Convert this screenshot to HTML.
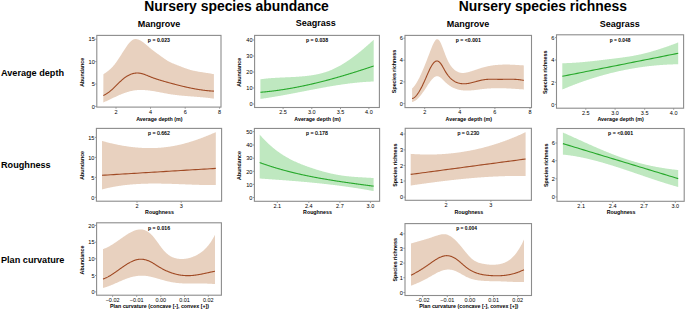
<!DOCTYPE html>
<html><head><meta charset="utf-8"><style>
html,body{margin:0;padding:0;background:#fff;}
svg{display:block;}
text{font-family:"Liberation Sans", sans-serif;fill:#000;}
</style></head><body>
<svg width="685" height="311" viewBox="0 0 685 311">
<rect width="685" height="311" fill="#fff"/>
<path d="M103.40,74.26 L103.90,73.94 L104.40,73.60 L104.90,73.27 L105.40,72.92 L105.90,72.57 L106.40,72.21 L106.90,71.84 L107.40,71.47 L107.90,71.08 L108.40,70.68 L108.90,70.26 L109.40,69.84 L109.90,69.40 L110.40,68.94 L110.90,68.47 L111.40,67.98 L111.90,67.48 L112.40,66.95 L112.90,66.41 L113.40,65.85 L113.90,65.26 L114.40,64.65 L114.90,64.02 L115.40,63.37 L115.90,62.70 L116.40,62.01 L116.90,61.30 L117.40,60.58 L117.90,59.84 L118.40,59.09 L118.90,58.33 L119.40,57.56 L119.90,56.78 L120.40,56.00 L120.90,55.21 L121.40,54.42 L121.90,53.62 L122.40,52.83 L122.90,52.04 L123.40,51.25 L123.90,50.47 L124.40,49.69 L124.90,48.92 L125.40,48.16 L125.90,47.41 L126.40,46.68 L126.90,45.97 L127.40,45.28 L127.90,44.61 L128.40,43.96 L128.90,43.35 L129.40,42.76 L129.90,42.21 L130.40,41.70 L130.90,41.22 L131.40,40.79 L131.90,40.40 L132.40,40.05 L132.90,39.76 L133.40,39.51 L133.90,39.32 L134.40,39.18 L134.90,39.09 L135.40,39.04 L135.90,39.03 L136.40,39.07 L136.90,39.14 L137.40,39.25 L137.90,39.39 L138.40,39.56 L138.90,39.76 L139.40,39.99 L139.90,40.24 L140.40,40.51 L140.90,40.80 L141.40,41.11 L141.90,41.43 L142.40,41.77 L142.90,42.12 L143.40,42.49 L143.90,42.87 L144.40,43.25 L144.90,43.65 L145.40,44.06 L145.90,44.47 L146.40,44.89 L146.90,45.31 L147.40,45.74 L147.90,46.17 L148.40,46.60 L148.90,47.03 L149.40,47.46 L149.90,47.88 L150.40,48.31 L150.90,48.72 L151.40,49.14 L151.90,49.54 L152.40,49.94 L152.90,50.33 L153.40,50.72 L153.90,51.09 L154.40,51.47 L154.90,51.83 L155.40,52.20 L155.90,52.56 L156.40,52.91 L156.90,53.27 L157.40,53.63 L157.90,53.98 L158.40,54.33 L158.90,54.69 L159.40,55.05 L159.90,55.41 L160.40,55.77 L160.90,56.14 L161.40,56.51 L161.90,56.88 L162.40,57.24 L162.90,57.61 L163.40,57.97 L163.90,58.33 L164.40,58.69 L164.90,59.03 L165.40,59.37 L165.90,59.70 L166.40,60.02 L166.90,60.33 L167.40,60.63 L167.90,60.92 L168.40,61.20 L168.90,61.47 L169.40,61.74 L169.90,61.99 L170.40,62.24 L170.90,62.48 L171.40,62.71 L171.90,62.94 L172.40,63.16 L172.90,63.38 L173.40,63.59 L173.90,63.80 L174.40,64.01 L174.90,64.21 L175.40,64.41 L175.90,64.60 L176.40,64.80 L176.90,64.99 L177.40,65.19 L177.90,65.38 L178.40,65.57 L178.90,65.77 L179.40,65.96 L179.90,66.16 L180.40,66.35 L180.90,66.55 L181.40,66.74 L181.90,66.94 L182.40,67.13 L182.90,67.32 L183.40,67.51 L183.90,67.70 L184.40,67.89 L184.90,68.07 L185.40,68.25 L185.90,68.43 L186.40,68.61 L186.90,68.78 L187.40,68.95 L187.90,69.12 L188.40,69.28 L188.90,69.44 L189.40,69.59 L189.90,69.74 L190.40,69.88 L190.90,70.02 L191.40,70.15 L191.90,70.28 L192.40,70.41 L192.90,70.53 L193.40,70.64 L193.90,70.76 L194.40,70.87 L194.90,70.97 L195.40,71.07 L195.90,71.17 L196.40,71.27 L196.90,71.37 L197.40,71.46 L197.90,71.55 L198.40,71.63 L198.90,71.72 L199.40,71.80 L199.90,71.89 L200.40,71.97 L200.90,72.04 L201.40,72.12 L201.90,72.20 L202.40,72.28 L202.90,72.35 L203.40,72.43 L203.90,72.50 L204.40,72.58 L204.90,72.65 L205.40,72.73 L205.90,72.80 L206.40,72.88 L206.90,72.95 L207.40,73.03 L207.90,73.11 L208.40,73.19 L208.90,73.27 L209.40,73.35 L209.90,73.44 L210.40,73.52 L210.90,73.61 L211.40,73.70 L211.90,73.80 L212.40,73.89 L212.90,73.99 L213.40,74.09 L213.90,74.20 L213.90,98.69 L213.80,98.68 L213.30,98.60 L212.80,98.53 L212.30,98.46 L211.80,98.38 L211.30,98.32 L210.80,98.25 L210.30,98.18 L209.80,98.12 L209.30,98.05 L208.80,97.99 L208.30,97.93 L207.80,97.87 L207.30,97.82 L206.80,97.76 L206.30,97.71 L205.80,97.65 L205.30,97.60 L204.80,97.55 L204.30,97.50 L203.80,97.45 L203.30,97.40 L202.80,97.35 L202.30,97.31 L201.80,97.26 L201.30,97.21 L200.80,97.17 L200.30,97.13 L199.80,97.08 L199.30,97.04 L198.80,97.00 L198.30,96.96 L197.80,96.92 L197.30,96.88 L196.80,96.84 L196.30,96.80 L195.80,96.76 L195.30,96.72 L194.80,96.69 L194.30,96.65 L193.80,96.61 L193.30,96.57 L192.80,96.53 L192.30,96.50 L191.80,96.46 L191.30,96.42 L190.80,96.38 L190.30,96.34 L189.80,96.31 L189.30,96.27 L188.80,96.23 L188.30,96.19 L187.80,96.15 L187.30,96.11 L186.80,96.07 L186.30,96.03 L185.80,95.99 L185.30,95.95 L184.80,95.91 L184.30,95.86 L183.80,95.82 L183.30,95.77 L182.80,95.73 L182.30,95.68 L181.80,95.64 L181.30,95.59 L180.80,95.54 L180.30,95.49 L179.80,95.44 L179.30,95.39 L178.80,95.33 L178.30,95.28 L177.80,95.23 L177.30,95.17 L176.80,95.11 L176.30,95.05 L175.80,94.99 L175.30,94.93 L174.80,94.87 L174.30,94.80 L173.80,94.73 L173.30,94.67 L172.80,94.60 L172.30,94.52 L171.80,94.45 L171.30,94.38 L170.80,94.30 L170.30,94.22 L169.80,94.14 L169.30,94.06 L168.80,93.97 L168.30,93.89 L167.80,93.80 L167.30,93.71 L166.80,93.62 L166.30,93.53 L165.80,93.44 L165.30,93.34 L164.80,93.25 L164.30,93.15 L163.80,93.06 L163.30,92.96 L162.80,92.87 L162.30,92.77 L161.80,92.67 L161.30,92.58 L160.80,92.48 L160.30,92.38 L159.80,92.29 L159.30,92.19 L158.80,92.09 L158.30,92.00 L157.80,91.91 L157.30,91.81 L156.80,91.72 L156.30,91.63 L155.80,91.54 L155.30,91.45 L154.80,91.36 L154.30,91.28 L153.80,91.19 L153.30,91.11 L152.80,91.03 L152.30,90.95 L151.80,90.88 L151.30,90.80 L150.80,90.73 L150.30,90.66 L149.80,90.60 L149.30,90.53 L148.80,90.47 L148.30,90.41 L147.80,90.36 L147.30,90.31 L146.80,90.26 L146.30,90.21 L145.80,90.17 L145.30,90.13 L144.80,90.10 L144.30,90.07 L143.80,90.04 L143.30,90.02 L142.80,90.00 L142.30,89.99 L141.80,89.98 L141.30,89.97 L140.80,89.97 L140.30,89.98 L139.80,89.99 L139.30,90.00 L138.80,90.02 L138.30,90.04 L137.80,90.07 L137.30,90.11 L136.80,90.15 L136.30,90.20 L135.80,90.25 L135.30,90.31 L134.80,90.37 L134.30,90.44 L133.80,90.52 L133.30,90.60 L132.80,90.69 L132.30,90.79 L131.80,90.89 L131.30,91.00 L130.80,91.11 L130.30,91.23 L129.80,91.36 L129.30,91.49 L128.80,91.63 L128.30,91.77 L127.80,91.91 L127.30,92.07 L126.80,92.22 L126.30,92.39 L125.80,92.55 L125.30,92.72 L124.80,92.90 L124.30,93.08 L123.80,93.26 L123.30,93.45 L122.80,93.64 L122.30,93.84 L121.80,94.03 L121.30,94.24 L120.80,94.44 L120.30,94.65 L119.80,94.86 L119.30,95.08 L118.80,95.30 L118.30,95.52 L117.80,95.74 L117.30,95.97 L116.80,96.20 L116.30,96.43 L115.80,96.66 L115.30,96.89 L114.80,97.13 L114.30,97.36 L113.80,97.60 L113.30,97.84 L112.80,98.08 L112.30,98.32 L111.80,98.56 L111.30,98.80 L110.80,99.04 L110.30,99.27 L109.80,99.51 L109.30,99.75 L108.80,99.99 L108.30,100.22 L107.80,100.45 L107.30,100.69 L106.80,100.92 L106.30,101.14 L105.80,101.37 L105.30,101.59 L104.80,101.81 L104.30,102.03 L103.80,102.25 L103.30,102.46 Z" fill="#e8d1bf"/>
<path d="M103.30,95.49 L103.80,95.26 L104.30,95.01 L104.80,94.75 L105.30,94.48 L105.80,94.19 L106.30,93.89 L106.80,93.58 L107.30,93.25 L107.80,92.91 L108.30,92.56 L108.80,92.19 L109.30,91.82 L109.80,91.43 L110.30,91.03 L110.80,90.61 L111.30,90.19 L111.80,89.76 L112.30,89.31 L112.80,88.86 L113.30,88.40 L113.80,87.92 L114.30,87.44 L114.80,86.95 L115.30,86.46 L115.80,85.97 L116.30,85.47 L116.80,84.96 L117.30,84.46 L117.80,83.96 L118.30,83.46 L118.80,82.96 L119.30,82.47 L119.80,81.98 L120.30,81.50 L120.80,81.03 L121.30,80.56 L121.80,80.11 L122.30,79.66 L122.80,79.23 L123.30,78.81 L123.80,78.41 L124.30,78.02 L124.80,77.65 L125.30,77.29 L125.80,76.94 L126.30,76.61 L126.80,76.29 L127.30,75.99 L127.80,75.70 L128.30,75.43 L128.80,75.17 L129.30,74.93 L129.80,74.70 L130.30,74.49 L130.80,74.29 L131.30,74.10 L131.80,73.93 L132.30,73.78 L132.80,73.64 L133.30,73.51 L133.80,73.40 L134.30,73.30 L134.80,73.22 L135.30,73.15 L135.80,73.10 L136.30,73.06 L136.80,73.04 L137.30,73.03 L137.80,73.04 L138.30,73.06 L138.80,73.10 L139.30,73.15 L139.80,73.21 L140.30,73.29 L140.80,73.39 L141.30,73.50 L141.80,73.62 L142.30,73.75 L142.80,73.90 L143.30,74.05 L143.80,74.22 L144.30,74.39 L144.80,74.57 L145.30,74.75 L145.80,74.94 L146.30,75.14 L146.80,75.34 L147.30,75.54 L147.80,75.75 L148.30,75.96 L148.80,76.16 L149.30,76.37 L149.80,76.58 L150.30,76.78 L150.80,76.98 L151.30,77.18 L151.80,77.37 L152.30,77.56 L152.80,77.75 L153.30,77.93 L153.80,78.11 L154.30,78.29 L154.80,78.47 L155.30,78.64 L155.80,78.81 L156.30,78.98 L156.80,79.14 L157.30,79.31 L157.80,79.47 L158.30,79.63 L158.80,79.78 L159.30,79.94 L159.80,80.09 L160.30,80.25 L160.80,80.40 L161.30,80.54 L161.80,80.69 L162.30,80.84 L162.80,80.98 L163.30,81.13 L163.80,81.27 L164.30,81.41 L164.80,81.55 L165.30,81.69 L165.80,81.83 L166.30,81.97 L166.80,82.11 L167.30,82.25 L167.80,82.39 L168.30,82.53 L168.80,82.67 L169.30,82.80 L169.80,82.94 L170.30,83.08 L170.80,83.21 L171.30,83.35 L171.80,83.48 L172.30,83.62 L172.80,83.75 L173.30,83.89 L173.80,84.02 L174.30,84.15 L174.80,84.28 L175.30,84.42 L175.80,84.55 L176.30,84.68 L176.80,84.80 L177.30,84.93 L177.80,85.06 L178.30,85.19 L178.80,85.31 L179.30,85.44 L179.80,85.56 L180.30,85.69 L180.80,85.81 L181.30,85.93 L181.80,86.05 L182.30,86.18 L182.80,86.29 L183.30,86.41 L183.80,86.53 L184.30,86.65 L184.80,86.76 L185.30,86.88 L185.80,86.99 L186.30,87.10 L186.80,87.22 L187.30,87.33 L187.80,87.44 L188.30,87.54 L188.80,87.65 L189.30,87.76 L189.80,87.86 L190.30,87.96 L190.80,88.07 L191.30,88.17 L191.80,88.27 L192.30,88.37 L192.80,88.46 L193.30,88.56 L193.80,88.66 L194.30,88.75 L194.80,88.84 L195.30,88.93 L195.80,89.02 L196.30,89.11 L196.80,89.20 L197.30,89.28 L197.80,89.36 L198.30,89.45 L198.80,89.53 L199.30,89.61 L199.80,89.68 L200.30,89.76 L200.80,89.83 L201.30,89.91 L201.80,89.98 L202.30,90.05 L202.80,90.11 L203.30,90.18 L203.80,90.25 L204.30,90.31 L204.80,90.37 L205.30,90.43 L205.80,90.49 L206.30,90.54 L206.80,90.60 L207.30,90.65 L207.80,90.70 L208.30,90.75 L208.80,90.79 L209.30,90.84 L209.80,90.88 L210.30,90.92 L210.80,90.96 L211.30,91.00 L211.80,91.03 L212.30,91.07 L212.80,91.10 L213.30,91.13 L213.80,91.15 L213.90,91.16" fill="none" stroke="#a04a24" stroke-width="1.1"/>
<rect x="96.8" y="35.4" width="124.2" height="71.69999999999999" fill="none" stroke="#8c8c8c" stroke-width="1.1"/>
<text transform="translate(94.80,41.40) scale(0.92,1)" font-size="6.1" text-anchor="end">15</text>
<text transform="translate(94.80,63.80) scale(0.92,1)" font-size="6.1" text-anchor="end">10</text>
<text transform="translate(94.80,86.20) scale(0.92,1)" font-size="6.1" text-anchor="end">5</text>
<text transform="translate(94.80,108.60) scale(0.92,1)" font-size="6.1" text-anchor="end">0</text>
<text x="116" y="113.9" font-size="5.5" font-weight="normal" text-anchor="middle" >2</text>
<text x="150.5" y="113.9" font-size="5.5" font-weight="normal" text-anchor="middle" >4</text>
<text x="185.2" y="113.9" font-size="5.5" font-weight="normal" text-anchor="middle" >6</text>
<text x="219.6" y="113.9" font-size="5.5" font-weight="normal" text-anchor="middle" >8</text>
<path d="M96.8,39.2 h-1.6 M96.8,61.6 h-1.6 M96.8,84.0 h-1.6 M96.8,106.4 h-1.6 M116,107.1 v1.6 M150.5,107.1 v1.6 M185.2,107.1 v1.6 M219.6,107.1 v1.6" stroke="#8c8c8c" stroke-width="0.9" fill="none"/>
<text x="158.9" y="42.3" font-size="5.2" font-weight="bold" text-anchor="middle" >p = 0.023</text>
<text x="159.4" y="121" font-size="5.3" font-weight="bold" text-anchor="middle" >Average depth (m)</text>
<text transform="translate(83.8,72.3) rotate(-90)" font-size="5.3" font-weight="bold" text-anchor="middle">Abundance</text>
<path d="M260.40,79.28 L260.90,79.21 L261.40,79.14 L261.90,79.07 L262.40,79.01 L262.90,78.95 L263.40,78.89 L263.90,78.83 L264.40,78.77 L264.90,78.71 L265.40,78.66 L265.90,78.61 L266.40,78.56 L266.90,78.51 L267.40,78.46 L267.90,78.41 L268.40,78.37 L268.90,78.32 L269.40,78.28 L269.90,78.24 L270.40,78.20 L270.90,78.16 L271.40,78.12 L271.90,78.09 L272.40,78.05 L272.90,78.02 L273.40,77.98 L273.90,77.95 L274.40,77.92 L274.90,77.89 L275.40,77.86 L275.90,77.83 L276.40,77.80 L276.90,77.77 L277.40,77.75 L277.90,77.72 L278.40,77.69 L278.90,77.67 L279.40,77.64 L279.90,77.62 L280.40,77.59 L280.90,77.57 L281.40,77.55 L281.90,77.52 L282.40,77.50 L282.90,77.48 L283.40,77.46 L283.90,77.44 L284.40,77.41 L284.90,77.39 L285.40,77.37 L285.90,77.35 L286.40,77.33 L286.90,77.30 L287.40,77.28 L287.90,77.26 L288.40,77.24 L288.90,77.21 L289.40,77.19 L289.90,77.17 L290.40,77.14 L290.90,77.12 L291.40,77.10 L291.90,77.07 L292.40,77.05 L292.90,77.02 L293.40,76.99 L293.90,76.97 L294.40,76.94 L294.90,76.91 L295.40,76.88 L295.90,76.85 L296.40,76.82 L296.90,76.79 L297.40,76.75 L297.90,76.72 L298.40,76.69 L298.90,76.65 L299.40,76.61 L299.90,76.58 L300.40,76.54 L300.90,76.50 L301.40,76.45 L301.90,76.41 L302.40,76.37 L302.90,76.32 L303.40,76.28 L303.90,76.23 L304.40,76.18 L304.90,76.13 L305.40,76.07 L305.90,76.02 L306.40,75.96 L306.90,75.91 L307.40,75.85 L307.90,75.79 L308.40,75.72 L308.90,75.66 L309.40,75.59 L309.90,75.52 L310.40,75.45 L310.90,75.38 L311.40,75.31 L311.90,75.23 L312.40,75.15 L312.90,75.07 L313.40,74.99 L313.90,74.90 L314.40,74.82 L314.90,74.73 L315.40,74.64 L315.90,74.54 L316.40,74.44 L316.90,74.34 L317.40,74.24 L317.90,74.13 L318.40,74.02 L318.90,73.91 L319.40,73.80 L319.90,73.68 L320.40,73.56 L320.90,73.43 L321.40,73.31 L321.90,73.17 L322.40,73.04 L322.90,72.90 L323.40,72.76 L323.90,72.61 L324.40,72.46 L324.90,72.31 L325.40,72.15 L325.90,71.99 L326.40,71.83 L326.90,71.66 L327.40,71.49 L327.90,71.31 L328.40,71.13 L328.90,70.94 L329.40,70.75 L329.90,70.55 L330.40,70.35 L330.90,70.15 L331.40,69.94 L331.90,69.73 L332.40,69.51 L332.90,69.29 L333.40,69.06 L333.90,68.83 L334.40,68.59 L334.90,68.35 L335.40,68.11 L335.90,67.86 L336.40,67.61 L336.90,67.36 L337.40,67.10 L337.90,66.83 L338.40,66.56 L338.90,66.29 L339.40,66.02 L339.90,65.74 L340.40,65.45 L340.90,65.17 L341.40,64.88 L341.90,64.58 L342.40,64.28 L342.90,63.98 L343.40,63.68 L343.90,63.37 L344.40,63.06 L344.90,62.74 L345.40,62.42 L345.90,62.10 L346.40,61.77 L346.90,61.44 L347.40,61.11 L347.90,60.77 L348.40,60.43 L348.90,60.09 L349.40,59.74 L349.90,59.39 L350.40,59.04 L350.90,58.68 L351.40,58.32 L351.90,57.96 L352.40,57.60 L352.90,57.23 L353.40,56.86 L353.90,56.49 L354.40,56.11 L354.90,55.73 L355.40,55.35 L355.90,54.96 L356.40,54.58 L356.90,54.19 L357.40,53.79 L357.90,53.40 L358.40,53.00 L358.90,52.60 L359.40,52.20 L359.90,51.79 L360.40,51.38 L360.90,50.97 L361.40,50.56 L361.90,50.15 L362.40,49.73 L362.90,49.31 L363.40,48.89 L363.90,48.46 L364.40,48.04 L364.90,47.61 L365.40,47.18 L365.90,46.75 L366.40,46.31 L366.90,45.87 L367.40,45.44 L367.90,45.00 L368.40,44.55 L368.90,44.11 L369.40,43.66 L369.90,43.22 L370.40,42.77 L370.90,42.32 L371.40,41.86 L371.90,41.41 L372.40,40.95 L372.90,40.49 L373.40,40.04 L373.70,39.76 L373.70,81.49 L373.40,81.50 L372.90,81.52 L372.40,81.54 L371.90,81.56 L371.40,81.58 L370.90,81.60 L370.40,81.63 L369.90,81.65 L369.40,81.68 L368.90,81.70 L368.40,81.73 L367.90,81.76 L367.40,81.79 L366.90,81.82 L366.40,81.85 L365.90,81.88 L365.40,81.92 L364.90,81.95 L364.40,81.99 L363.90,82.03 L363.40,82.06 L362.90,82.10 L362.40,82.14 L361.90,82.18 L361.40,82.23 L360.90,82.27 L360.40,82.31 L359.90,82.36 L359.40,82.40 L358.90,82.45 L358.40,82.50 L357.90,82.55 L357.40,82.59 L356.90,82.64 L356.40,82.70 L355.90,82.75 L355.40,82.80 L354.90,82.85 L354.40,82.91 L353.90,82.96 L353.40,83.02 L352.90,83.08 L352.40,83.13 L351.90,83.19 L351.40,83.25 L350.90,83.31 L350.40,83.37 L349.90,83.43 L349.40,83.50 L348.90,83.56 L348.40,83.62 L347.90,83.69 L347.40,83.75 L346.90,83.82 L346.40,83.88 L345.90,83.95 L345.40,84.02 L344.90,84.09 L344.40,84.16 L343.90,84.23 L343.40,84.30 L342.90,84.37 L342.40,84.44 L341.90,84.52 L341.40,84.59 L340.90,84.66 L340.40,84.74 L339.90,84.81 L339.40,84.89 L338.90,84.96 L338.40,85.04 L337.90,85.12 L337.40,85.20 L336.90,85.28 L336.40,85.35 L335.90,85.43 L335.40,85.51 L334.90,85.60 L334.40,85.68 L333.90,85.76 L333.40,85.84 L332.90,85.92 L332.40,86.01 L331.90,86.09 L331.40,86.17 L330.90,86.26 L330.40,86.34 L329.90,86.43 L329.40,86.52 L328.90,86.60 L328.40,86.69 L327.90,86.78 L327.40,86.86 L326.90,86.95 L326.40,87.04 L325.90,87.13 L325.40,87.22 L324.90,87.31 L324.40,87.40 L323.90,87.49 L323.40,87.58 L322.90,87.67 L322.40,87.76 L321.90,87.85 L321.40,87.94 L320.90,88.04 L320.40,88.13 L319.90,88.22 L319.40,88.32 L318.90,88.41 L318.40,88.50 L317.90,88.60 L317.40,88.69 L316.90,88.78 L316.40,88.88 L315.90,88.97 L315.40,89.07 L314.90,89.16 L314.40,89.26 L313.90,89.35 L313.40,89.45 L312.90,89.54 L312.40,89.64 L311.90,89.74 L311.40,89.83 L310.90,89.93 L310.40,90.03 L309.90,90.12 L309.40,90.22 L308.90,90.32 L308.40,90.41 L307.90,90.51 L307.40,90.61 L306.90,90.70 L306.40,90.80 L305.90,90.90 L305.40,91.00 L304.90,91.09 L304.40,91.19 L303.90,91.29 L303.40,91.39 L302.90,91.48 L302.40,91.58 L301.90,91.68 L301.40,91.78 L300.90,91.87 L300.40,91.97 L299.90,92.07 L299.40,92.16 L298.90,92.26 L298.40,92.36 L297.90,92.46 L297.40,92.55 L296.90,92.65 L296.40,92.75 L295.90,92.84 L295.40,92.94 L294.90,93.04 L294.40,93.13 L293.90,93.23 L293.40,93.32 L292.90,93.42 L292.40,93.52 L291.90,93.61 L291.40,93.71 L290.90,93.80 L290.40,93.90 L289.90,93.99 L289.40,94.09 L288.90,94.18 L288.40,94.27 L287.90,94.37 L287.40,94.46 L286.90,94.55 L286.40,94.65 L285.90,94.74 L285.40,94.83 L284.90,94.92 L284.40,95.02 L283.90,95.11 L283.40,95.20 L282.90,95.29 L282.40,95.38 L281.90,95.47 L281.40,95.56 L280.90,95.65 L280.40,95.74 L279.90,95.83 L279.40,95.92 L278.90,96.00 L278.40,96.09 L277.90,96.18 L277.40,96.27 L276.90,96.35 L276.40,96.44 L275.90,96.52 L275.40,96.61 L274.90,96.69 L274.40,96.78 L273.90,96.86 L273.40,96.95 L272.90,97.03 L272.40,97.11 L271.90,97.19 L271.40,97.27 L270.90,97.35 L270.40,97.43 L269.90,97.51 L269.40,97.59 L268.90,97.67 L268.40,97.75 L267.90,97.83 L267.40,97.91 L266.90,97.98 L266.40,98.06 L265.90,98.13 L265.40,98.21 L264.90,98.28 L264.40,98.35 L263.90,98.43 L263.40,98.50 L262.90,98.57 L262.40,98.64 L261.90,98.71 L261.40,98.78 L260.90,98.85 L260.40,98.92 Z" fill="#bfe8c0"/>
<path d="M260.40,92.29 L260.90,92.24 L261.40,92.20 L261.90,92.16 L262.40,92.11 L262.90,92.07 L263.40,92.02 L263.90,91.98 L264.40,91.93 L264.90,91.88 L265.40,91.83 L265.90,91.78 L266.40,91.73 L266.90,91.68 L267.40,91.63 L267.90,91.57 L268.40,91.52 L268.90,91.46 L269.40,91.41 L269.90,91.35 L270.40,91.29 L270.90,91.24 L271.40,91.18 L271.90,91.12 L272.40,91.06 L272.90,91.00 L273.40,90.93 L273.90,90.87 L274.40,90.81 L274.90,90.74 L275.40,90.68 L275.90,90.61 L276.40,90.54 L276.90,90.48 L277.40,90.41 L277.90,90.34 L278.40,90.27 L278.90,90.20 L279.40,90.13 L279.90,90.06 L280.40,89.98 L280.90,89.91 L281.40,89.83 L281.90,89.76 L282.40,89.68 L282.90,89.61 L283.40,89.53 L283.90,89.45 L284.40,89.37 L284.90,89.29 L285.40,89.21 L285.90,89.13 L286.40,89.05 L286.90,88.97 L287.40,88.89 L287.90,88.80 L288.40,88.72 L288.90,88.63 L289.40,88.55 L289.90,88.46 L290.40,88.37 L290.90,88.28 L291.40,88.19 L291.90,88.10 L292.40,88.01 L292.90,87.92 L293.40,87.83 L293.90,87.74 L294.40,87.65 L294.90,87.55 L295.40,87.46 L295.90,87.36 L296.40,87.27 L296.90,87.17 L297.40,87.08 L297.90,86.98 L298.40,86.88 L298.90,86.78 L299.40,86.68 L299.90,86.58 L300.40,86.48 L300.90,86.38 L301.40,86.28 L301.90,86.17 L302.40,86.07 L302.90,85.97 L303.40,85.86 L303.90,85.76 L304.40,85.65 L304.90,85.54 L305.40,85.44 L305.90,85.33 L306.40,85.22 L306.90,85.11 L307.40,85.00 L307.90,84.89 L308.40,84.78 L308.90,84.67 L309.40,84.55 L309.90,84.44 L310.40,84.33 L310.90,84.21 L311.40,84.10 L311.90,83.98 L312.40,83.87 L312.90,83.75 L313.40,83.64 L313.90,83.52 L314.40,83.40 L314.90,83.28 L315.40,83.16 L315.90,83.04 L316.40,82.92 L316.90,82.80 L317.40,82.68 L317.90,82.56 L318.40,82.43 L318.90,82.31 L319.40,82.19 L319.90,82.06 L320.40,81.94 L320.90,81.81 L321.40,81.69 L321.90,81.56 L322.40,81.43 L322.90,81.30 L323.40,81.18 L323.90,81.05 L324.40,80.92 L324.90,80.79 L325.40,80.66 L325.90,80.53 L326.40,80.39 L326.90,80.26 L327.40,80.13 L327.90,80.00 L328.40,79.86 L328.90,79.73 L329.40,79.60 L329.90,79.46 L330.40,79.33 L330.90,79.19 L331.40,79.05 L331.90,78.92 L332.40,78.78 L332.90,78.64 L333.40,78.50 L333.90,78.36 L334.40,78.22 L334.90,78.08 L335.40,77.94 L335.90,77.80 L336.40,77.66 L336.90,77.52 L337.40,77.38 L337.90,77.23 L338.40,77.09 L338.90,76.95 L339.40,76.80 L339.90,76.66 L340.40,76.51 L340.90,76.37 L341.40,76.22 L341.90,76.08 L342.40,75.93 L342.90,75.78 L343.40,75.63 L343.90,75.49 L344.40,75.34 L344.90,75.19 L345.40,75.04 L345.90,74.89 L346.40,74.74 L346.90,74.59 L347.40,74.44 L347.90,74.29 L348.40,74.13 L348.90,73.98 L349.40,73.83 L349.90,73.68 L350.40,73.52 L350.90,73.37 L351.40,73.21 L351.90,73.06 L352.40,72.90 L352.90,72.75 L353.40,72.59 L353.90,72.44 L354.40,72.28 L354.90,72.12 L355.40,71.97 L355.90,71.81 L356.40,71.65 L356.90,71.49 L357.40,71.33 L357.90,71.17 L358.40,71.01 L358.90,70.85 L359.40,70.69 L359.90,70.53 L360.40,70.37 L360.90,70.21 L361.40,70.05 L361.90,69.89 L362.40,69.72 L362.90,69.56 L363.40,69.40 L363.90,69.23 L364.40,69.07 L364.90,68.91 L365.40,68.74 L365.90,68.58 L366.40,68.41 L366.90,68.25 L367.40,68.08 L367.90,67.91 L368.40,67.75 L368.90,67.58 L369.40,67.41 L369.90,67.25 L370.40,67.08 L370.90,66.91 L371.40,66.74 L371.90,66.57 L372.40,66.41 L372.90,66.24 L373.40,66.07 L373.70,65.97" fill="none" stroke="#26a82a" stroke-width="1.1"/>
<rect x="254.6" y="35.4" width="124.79999999999998" height="72.1" fill="none" stroke="#8c8c8c" stroke-width="1.1"/>
<text transform="translate(252.60,42.20) scale(0.92,1)" font-size="6.1" text-anchor="end">40</text>
<text transform="translate(252.60,58.20) scale(0.92,1)" font-size="6.1" text-anchor="end">30</text>
<text transform="translate(252.60,74.20) scale(0.92,1)" font-size="6.1" text-anchor="end">20</text>
<text transform="translate(252.60,90.20) scale(0.92,1)" font-size="6.1" text-anchor="end">10</text>
<text transform="translate(252.60,106.20) scale(0.92,1)" font-size="6.1" text-anchor="end">0</text>
<text x="283.1" y="114.3" font-size="5.5" font-weight="normal" text-anchor="middle" >2.5</text>
<text x="311.8" y="114.3" font-size="5.5" font-weight="normal" text-anchor="middle" >3.0</text>
<text x="340.5" y="114.3" font-size="5.5" font-weight="normal" text-anchor="middle" >3.5</text>
<text x="368.9" y="114.3" font-size="5.5" font-weight="normal" text-anchor="middle" >4.0</text>
<path d="M254.6,40 h-1.6 M254.6,56 h-1.6 M254.6,72 h-1.6 M254.6,88 h-1.6 M254.6,104 h-1.6 M283.1,107.5 v1.6 M311.8,107.5 v1.6 M340.5,107.5 v1.6 M368.9,107.5 v1.6" stroke="#8c8c8c" stroke-width="0.9" fill="none"/>
<text x="317.0" y="42.3" font-size="5.2" font-weight="bold" text-anchor="middle" >p = 0.038</text>
<text x="317.5" y="121" font-size="5.3" font-weight="bold" text-anchor="middle" >Average depth (m)</text>
<text transform="translate(241,72.3) rotate(-90)" font-size="5.3" font-weight="bold" text-anchor="middle">Abundance</text>
<path d="M412.10,88.41 L412.60,87.96 L413.10,87.46 L413.60,86.91 L414.10,86.32 L414.60,85.68 L415.10,85.00 L415.60,84.27 L416.10,83.51 L416.60,82.70 L417.10,81.86 L417.60,80.98 L418.10,80.07 L418.60,79.12 L419.10,78.15 L419.60,77.14 L420.10,76.10 L420.60,75.04 L421.10,73.94 L421.60,72.83 L422.10,71.69 L422.60,70.53 L423.10,69.36 L423.60,68.16 L424.10,66.95 L424.60,65.72 L425.10,64.48 L425.60,63.22 L426.10,61.95 L426.60,60.68 L427.10,59.40 L427.60,58.11 L428.10,56.81 L428.60,55.52 L429.10,54.22 L429.60,52.92 L430.10,51.62 L430.60,50.33 L431.10,49.04 L431.60,47.77 L432.10,46.54 L432.60,45.36 L433.10,44.24 L433.60,43.19 L434.10,42.24 L434.60,41.39 L435.10,40.66 L435.60,40.07 L436.10,39.62 L436.60,39.33 L437.10,39.21 L437.60,39.25 L438.10,39.45 L438.60,39.81 L439.10,40.32 L439.60,41.00 L440.10,41.82 L440.60,42.77 L441.10,43.83 L441.60,44.99 L442.10,46.22 L442.60,47.51 L443.10,48.83 L443.60,50.18 L444.10,51.53 L444.60,52.87 L445.10,54.20 L445.60,55.49 L446.10,56.74 L446.60,57.94 L447.10,59.07 L447.60,60.15 L448.10,61.17 L448.60,62.13 L449.10,63.04 L449.60,63.90 L450.10,64.70 L450.60,65.46 L451.10,66.17 L451.60,66.84 L452.10,67.46 L452.60,68.04 L453.10,68.58 L453.60,69.08 L454.10,69.54 L454.60,69.97 L455.10,70.36 L455.60,70.72 L456.10,71.05 L456.60,71.35 L457.10,71.62 L457.60,71.86 L458.10,72.08 L458.60,72.27 L459.10,72.43 L459.60,72.57 L460.10,72.68 L460.60,72.78 L461.10,72.85 L461.60,72.90 L462.10,72.93 L462.60,72.95 L463.10,72.94 L463.60,72.92 L464.10,72.88 L464.60,72.83 L465.10,72.77 L465.60,72.69 L466.10,72.61 L466.60,72.51 L467.10,72.40 L467.60,72.28 L468.10,72.16 L468.60,72.03 L469.10,71.89 L469.60,71.75 L470.10,71.60 L470.60,71.46 L471.10,71.30 L471.60,71.15 L472.10,70.99 L472.60,70.83 L473.10,70.67 L473.60,70.51 L474.10,70.34 L474.60,70.18 L475.10,70.01 L475.60,69.84 L476.10,69.67 L476.60,69.51 L477.10,69.34 L477.60,69.17 L478.10,69.00 L478.60,68.84 L479.10,68.67 L479.60,68.51 L480.10,68.34 L480.60,68.19 L481.10,68.03 L481.60,67.87 L482.10,67.72 L482.60,67.57 L483.10,67.43 L483.60,67.29 L484.10,67.15 L484.60,67.02 L485.10,66.89 L485.60,66.76 L486.10,66.64 L486.60,66.53 L487.10,66.41 L487.60,66.30 L488.10,66.20 L488.60,66.10 L489.10,66.00 L489.60,65.91 L490.10,65.82 L490.60,65.73 L491.10,65.65 L491.60,65.57 L492.10,65.50 L492.60,65.42 L493.10,65.35 L493.60,65.29 L494.10,65.23 L494.60,65.17 L495.10,65.11 L495.60,65.06 L496.10,65.01 L496.60,64.96 L497.10,64.92 L497.60,64.88 L498.10,64.84 L498.60,64.80 L499.10,64.77 L499.60,64.74 L500.10,64.71 L500.60,64.69 L501.10,64.67 L501.60,64.65 L502.10,64.63 L502.60,64.61 L503.10,64.60 L503.60,64.59 L504.10,64.58 L504.60,64.58 L505.10,64.57 L505.60,64.57 L506.10,64.57 L506.60,64.57 L507.10,64.58 L507.60,64.58 L508.10,64.59 L508.60,64.60 L509.10,64.61 L509.60,64.62 L510.10,64.63 L510.60,64.65 L511.10,64.67 L511.60,64.69 L512.10,64.71 L512.60,64.73 L513.10,64.75 L513.60,64.77 L514.10,64.80 L514.60,64.82 L515.10,64.85 L515.60,64.88 L516.10,64.90 L516.60,64.93 L517.10,64.96 L517.60,64.99 L518.10,65.03 L518.60,65.06 L519.10,65.09 L519.60,65.13 L520.10,65.16 L520.60,65.19 L521.10,65.23 L521.60,65.26 L522.10,65.30 L522.60,65.34 L523.10,65.37 L523.60,65.41 L523.80,65.42 L523.80,89.46 L523.60,89.44 L523.10,89.41 L522.60,89.37 L522.10,89.34 L521.60,89.30 L521.10,89.27 L520.60,89.23 L520.10,89.20 L519.60,89.16 L519.10,89.13 L518.60,89.09 L518.10,89.06 L517.60,89.03 L517.10,88.99 L516.60,88.96 L516.10,88.93 L515.60,88.89 L515.10,88.86 L514.60,88.83 L514.10,88.80 L513.60,88.76 L513.10,88.73 L512.60,88.70 L512.10,88.67 L511.60,88.64 L511.10,88.62 L510.60,88.59 L510.10,88.56 L509.60,88.53 L509.10,88.51 L508.60,88.48 L508.10,88.46 L507.60,88.44 L507.10,88.41 L506.60,88.39 L506.10,88.37 L505.60,88.35 L505.10,88.33 L504.60,88.32 L504.10,88.30 L503.60,88.29 L503.10,88.27 L502.60,88.26 L502.10,88.25 L501.60,88.24 L501.10,88.23 L500.60,88.22 L500.10,88.21 L499.60,88.21 L499.10,88.20 L498.60,88.20 L498.10,88.20 L497.60,88.20 L497.10,88.20 L496.60,88.20 L496.10,88.21 L495.60,88.22 L495.10,88.22 L494.60,88.23 L494.10,88.25 L493.60,88.26 L493.10,88.27 L492.60,88.29 L492.10,88.31 L491.60,88.33 L491.10,88.35 L490.60,88.38 L490.10,88.40 L489.60,88.43 L489.10,88.46 L488.60,88.49 L488.10,88.53 L487.60,88.57 L487.10,88.60 L486.60,88.65 L486.10,88.69 L485.60,88.73 L485.10,88.78 L484.60,88.83 L484.10,88.88 L483.60,88.94 L483.10,88.99 L482.60,89.05 L482.10,89.11 L481.60,89.17 L481.10,89.24 L480.60,89.30 L480.10,89.37 L479.60,89.43 L479.10,89.50 L478.60,89.56 L478.10,89.63 L477.60,89.70 L477.10,89.76 L476.60,89.82 L476.10,89.89 L475.60,89.95 L475.10,90.01 L474.60,90.07 L474.10,90.13 L473.60,90.18 L473.10,90.23 L472.60,90.28 L472.10,90.33 L471.60,90.37 L471.10,90.41 L470.60,90.45 L470.10,90.48 L469.60,90.51 L469.10,90.53 L468.60,90.55 L468.10,90.57 L467.60,90.58 L467.10,90.58 L466.60,90.58 L466.10,90.58 L465.60,90.57 L465.10,90.55 L464.60,90.53 L464.10,90.49 L463.60,90.46 L463.10,90.41 L462.60,90.36 L462.10,90.30 L461.60,90.24 L461.10,90.16 L460.60,90.08 L460.10,89.99 L459.60,89.89 L459.10,89.78 L458.60,89.66 L458.10,89.53 L457.60,89.40 L457.10,89.25 L456.60,89.10 L456.10,88.93 L455.60,88.75 L455.10,88.57 L454.60,88.37 L454.10,88.16 L453.60,87.94 L453.10,87.70 L452.60,87.46 L452.10,87.20 L451.60,86.93 L451.10,86.65 L450.60,86.35 L450.10,86.04 L449.60,85.71 L449.10,85.36 L448.60,85.00 L448.10,84.62 L447.60,84.22 L447.10,83.80 L446.60,83.36 L446.10,82.90 L445.60,82.42 L445.10,81.92 L444.60,81.42 L444.10,80.91 L443.60,80.40 L443.10,79.90 L442.60,79.41 L442.10,78.94 L441.60,78.48 L441.10,78.05 L440.60,77.65 L440.10,77.29 L439.60,76.97 L439.10,76.69 L438.60,76.47 L438.10,76.29 L437.60,76.18 L437.10,76.14 L436.60,76.17 L436.10,76.26 L435.60,76.43 L435.10,76.66 L434.60,76.95 L434.10,77.30 L433.60,77.70 L433.10,78.16 L432.60,78.65 L432.10,79.20 L431.60,79.78 L431.10,80.39 L430.60,81.04 L430.10,81.71 L429.60,82.41 L429.10,83.13 L428.60,83.87 L428.10,84.62 L427.60,85.37 L427.10,86.14 L426.60,86.90 L426.10,87.67 L425.60,88.43 L425.10,89.18 L424.60,89.92 L424.10,90.66 L423.60,91.38 L423.10,92.09 L422.60,92.79 L422.10,93.47 L421.60,94.14 L421.10,94.79 L420.60,95.42 L420.10,96.03 L419.60,96.62 L419.10,97.19 L418.60,97.73 L418.10,98.25 L417.60,98.74 L417.10,99.21 L416.60,99.65 L416.10,100.06 L415.60,100.43 L415.10,100.78 L414.60,101.09 L414.10,101.36 L413.60,101.60 L413.10,101.80 L412.60,101.97 L412.10,102.09 Z" fill="#e8d1bf"/>
<path d="M412.10,98.49 L412.60,98.37 L413.10,98.18 L413.60,97.92 L414.10,97.61 L414.60,97.24 L415.10,96.82 L415.60,96.34 L416.10,95.81 L416.60,95.24 L417.10,94.61 L417.60,93.94 L418.10,93.22 L418.60,92.47 L419.10,91.67 L419.60,90.84 L420.10,89.97 L420.60,89.06 L421.10,88.13 L421.60,87.16 L422.10,86.17 L422.60,85.15 L423.10,84.11 L423.60,83.05 L424.10,81.96 L424.60,80.86 L425.10,79.74 L425.60,78.61 L426.10,77.46 L426.60,76.31 L427.10,75.15 L427.60,74.00 L428.10,72.87 L428.60,71.75 L429.10,70.65 L429.60,69.59 L430.10,68.57 L430.60,67.59 L431.10,66.67 L431.60,65.81 L432.10,65.00 L432.60,64.26 L433.10,63.58 L433.60,62.98 L434.10,62.45 L434.60,61.99 L435.10,61.62 L435.60,61.32 L436.10,61.12 L436.60,61.01 L437.10,60.99 L437.60,61.06 L438.10,61.23 L438.60,61.49 L439.10,61.83 L439.60,62.27 L440.10,62.79 L440.60,63.40 L441.10,64.08 L441.60,64.84 L442.10,65.66 L442.60,66.52 L443.10,67.41 L443.60,68.32 L444.10,69.23 L444.60,70.14 L445.10,71.02 L445.60,71.86 L446.10,72.66 L446.60,73.43 L447.10,74.16 L447.60,74.85 L448.10,75.51 L448.60,76.14 L449.10,76.73 L449.60,77.29 L450.10,77.82 L450.60,78.32 L451.10,78.79 L451.60,79.24 L452.10,79.65 L452.60,80.04 L453.10,80.41 L453.60,80.75 L454.10,81.08 L454.60,81.37 L455.10,81.65 L455.60,81.91 L456.10,82.15 L456.60,82.38 L457.10,82.58 L457.60,82.77 L458.10,82.93 L458.60,83.09 L459.10,83.22 L459.60,83.34 L460.10,83.45 L460.60,83.54 L461.10,83.61 L461.60,83.67 L462.10,83.72 L462.60,83.76 L463.10,83.78 L463.60,83.79 L464.10,83.79 L464.60,83.78 L465.10,83.76 L465.60,83.73 L466.10,83.68 L466.60,83.63 L467.10,83.57 L467.60,83.50 L468.10,83.43 L468.60,83.34 L469.10,83.25 L469.60,83.16 L470.10,83.05 L470.60,82.95 L471.10,82.83 L471.60,82.72 L472.10,82.59 L472.60,82.47 L473.10,82.34 L473.60,82.21 L474.10,82.08 L474.60,81.94 L475.10,81.81 L475.60,81.67 L476.10,81.53 L476.60,81.40 L477.10,81.26 L477.60,81.12 L478.10,80.99 L478.60,80.86 L479.10,80.73 L479.60,80.61 L480.10,80.48 L480.60,80.36 L481.10,80.25 L481.60,80.14 L482.10,80.04 L482.60,79.94 L483.10,79.85 L483.60,79.76 L484.10,79.68 L484.60,79.61 L485.10,79.55 L485.60,79.49 L486.10,79.44 L486.60,79.40 L487.10,79.36 L487.60,79.33 L488.10,79.30 L488.60,79.28 L489.10,79.26 L489.60,79.25 L490.10,79.24 L490.60,79.23 L491.10,79.23 L491.60,79.23 L492.10,79.23 L492.60,79.24 L493.10,79.25 L493.60,79.25 L494.10,79.26 L494.60,79.27 L495.10,79.28 L495.60,79.29 L496.10,79.30 L496.60,79.31 L497.10,79.32 L497.60,79.33 L498.10,79.34 L498.60,79.34 L499.10,79.35 L499.60,79.35 L500.10,79.35 L500.60,79.35 L501.10,79.34 L501.60,79.34 L502.10,79.33 L502.60,79.33 L503.10,79.32 L503.60,79.31 L504.10,79.30 L504.60,79.30 L505.10,79.29 L505.60,79.28 L506.10,79.27 L506.60,79.26 L507.10,79.26 L507.60,79.25 L508.10,79.24 L508.60,79.24 L509.10,79.24 L509.60,79.24 L510.10,79.24 L510.60,79.24 L511.10,79.24 L511.60,79.24 L512.10,79.25 L512.60,79.26 L513.10,79.27 L513.60,79.29 L514.10,79.31 L514.60,79.33 L515.10,79.35 L515.60,79.37 L516.10,79.40 L516.60,79.44 L517.10,79.48 L517.60,79.52 L518.10,79.56 L518.60,79.61 L519.10,79.66 L519.60,79.72 L520.10,79.78 L520.60,79.85 L521.10,79.92 L521.60,80.00 L522.10,80.08 L522.60,80.17 L523.10,80.27 L523.60,80.36 L523.80,80.41" fill="none" stroke="#a04a24" stroke-width="1.1"/>
<rect x="405.0" y="35.4" width="126.5" height="72.19999999999999" fill="none" stroke="#8c8c8c" stroke-width="1.1"/>
<text transform="translate(403.00,40.40) scale(0.92,1)" font-size="6.1" text-anchor="end">6</text>
<text transform="translate(403.00,62.40) scale(0.92,1)" font-size="6.1" text-anchor="end">4</text>
<text transform="translate(403.00,84.10) scale(0.92,1)" font-size="6.1" text-anchor="end">2</text>
<text transform="translate(403.00,105.80) scale(0.92,1)" font-size="6.1" text-anchor="end">0</text>
<text x="424.7" y="114.4" font-size="5.5" font-weight="normal" text-anchor="middle" >2</text>
<text x="459.8" y="114.4" font-size="5.5" font-weight="normal" text-anchor="middle" >4</text>
<text x="494.9" y="114.4" font-size="5.5" font-weight="normal" text-anchor="middle" >6</text>
<text x="530" y="114.4" font-size="5.5" font-weight="normal" text-anchor="middle" >8</text>
<path d="M405.0,38.2 h-1.6 M405.0,60.2 h-1.6 M405.0,81.9 h-1.6 M405.0,103.6 h-1.6 M424.7,107.6 v1.6 M459.8,107.6 v1.6 M494.9,107.6 v1.6 M530,107.6 v1.6" stroke="#8c8c8c" stroke-width="0.9" fill="none"/>
<text x="468.25" y="42.3" font-size="5.2" font-weight="bold" text-anchor="middle" >p = &lt;0.001</text>
<text x="468.75" y="121" font-size="5.3" font-weight="bold" text-anchor="middle" >Average depth (m)</text>
<text transform="translate(396.4,71.5) rotate(-90)" font-size="5.3" font-weight="bold" text-anchor="middle">Species richness</text>
<path d="M562.30,63.23 L562.80,63.22 L563.30,63.21 L563.80,63.20 L564.30,63.19 L564.80,63.18 L565.30,63.16 L565.80,63.15 L566.30,63.13 L566.80,63.11 L567.30,63.10 L567.80,63.08 L568.30,63.06 L568.80,63.04 L569.30,63.01 L569.80,62.99 L570.30,62.97 L570.80,62.94 L571.30,62.91 L571.80,62.89 L572.30,62.86 L572.80,62.83 L573.30,62.80 L573.80,62.77 L574.30,62.74 L574.80,62.71 L575.30,62.67 L575.80,62.64 L576.30,62.60 L576.80,62.57 L577.30,62.53 L577.80,62.50 L578.30,62.46 L578.80,62.42 L579.30,62.38 L579.80,62.34 L580.30,62.30 L580.80,62.26 L581.30,62.21 L581.80,62.17 L582.30,62.13 L582.80,62.08 L583.30,62.04 L583.80,61.99 L584.30,61.95 L584.80,61.90 L585.30,61.85 L585.80,61.81 L586.30,61.76 L586.80,61.71 L587.30,61.66 L587.80,61.61 L588.30,61.56 L588.80,61.51 L589.30,61.45 L589.80,61.40 L590.30,61.35 L590.80,61.30 L591.30,61.24 L591.80,61.19 L592.30,61.14 L592.80,61.08 L593.30,61.03 L593.80,60.97 L594.30,60.91 L594.80,60.86 L595.30,60.80 L595.80,60.74 L596.30,60.69 L596.80,60.63 L597.30,60.57 L597.80,60.51 L598.30,60.45 L598.80,60.40 L599.30,60.34 L599.80,60.28 L600.30,60.22 L600.80,60.16 L601.30,60.10 L601.80,60.04 L602.30,59.98 L602.80,59.92 L603.30,59.86 L603.80,59.80 L604.30,59.74 L604.80,59.67 L605.30,59.61 L605.80,59.55 L606.30,59.49 L606.80,59.43 L607.30,59.37 L607.80,59.31 L608.30,59.25 L608.80,59.18 L609.30,59.12 L609.80,59.06 L610.30,59.00 L610.80,58.94 L611.30,58.88 L611.80,58.82 L612.30,58.75 L612.80,58.69 L613.30,58.63 L613.80,58.57 L614.30,58.51 L614.80,58.45 L615.30,58.39 L615.80,58.32 L616.30,58.26 L616.80,58.20 L617.30,58.14 L617.80,58.08 L618.30,58.01 L618.80,57.95 L619.30,57.89 L619.80,57.82 L620.30,57.76 L620.80,57.69 L621.30,57.63 L621.80,57.56 L622.30,57.49 L622.80,57.42 L623.30,57.36 L623.80,57.29 L624.30,57.22 L624.80,57.15 L625.30,57.07 L625.80,57.00 L626.30,56.93 L626.80,56.86 L627.30,56.78 L627.80,56.70 L628.30,56.63 L628.80,56.55 L629.30,56.47 L629.80,56.39 L630.30,56.31 L630.80,56.22 L631.30,56.14 L631.80,56.06 L632.30,55.97 L632.80,55.88 L633.30,55.79 L633.80,55.70 L634.30,55.61 L634.80,55.51 L635.30,55.42 L635.80,55.32 L636.30,55.22 L636.80,55.12 L637.30,55.02 L637.80,54.92 L638.30,54.82 L638.80,54.71 L639.30,54.60 L639.80,54.49 L640.30,54.38 L640.80,54.27 L641.30,54.16 L641.80,54.04 L642.30,53.93 L642.80,53.81 L643.30,53.69 L643.80,53.57 L644.30,53.45 L644.80,53.32 L645.30,53.20 L645.80,53.07 L646.30,52.94 L646.80,52.81 L647.30,52.68 L647.80,52.55 L648.30,52.42 L648.80,52.29 L649.30,52.15 L649.80,52.01 L650.30,51.88 L650.80,51.74 L651.30,51.60 L651.80,51.45 L652.30,51.31 L652.80,51.17 L653.30,51.02 L653.80,50.87 L654.30,50.73 L654.80,50.58 L655.30,50.43 L655.80,50.28 L656.30,50.12 L656.80,49.97 L657.30,49.81 L657.80,49.66 L658.30,49.50 L658.80,49.34 L659.30,49.18 L659.80,49.02 L660.30,48.86 L660.80,48.70 L661.30,48.53 L661.80,48.37 L662.30,48.20 L662.80,48.04 L663.30,47.87 L663.80,47.70 L664.30,47.53 L664.80,47.36 L665.30,47.19 L665.80,47.02 L666.30,46.84 L666.80,46.67 L667.30,46.49 L667.80,46.32 L668.30,46.14 L668.80,45.96 L669.30,45.78 L669.80,45.60 L670.30,45.42 L670.80,45.24 L671.30,45.06 L671.80,44.87 L672.30,44.69 L672.80,44.50 L673.30,44.32 L673.80,44.13 L674.30,43.94 L674.80,43.75 L675.30,43.57 L675.80,43.38 L676.30,43.19 L676.80,42.99 L677.30,42.80 L677.80,42.61 L678.20,42.45 L678.20,64.25 L677.80,64.26 L677.30,64.27 L676.80,64.28 L676.30,64.29 L675.80,64.30 L675.30,64.31 L674.80,64.32 L674.30,64.34 L673.80,64.35 L673.30,64.37 L672.80,64.38 L672.30,64.40 L671.80,64.42 L671.30,64.44 L670.80,64.46 L670.30,64.48 L669.80,64.50 L669.30,64.52 L668.80,64.54 L668.30,64.57 L667.80,64.59 L667.30,64.62 L666.80,64.65 L666.30,64.67 L665.80,64.70 L665.30,64.73 L664.80,64.76 L664.30,64.79 L663.80,64.82 L663.30,64.85 L662.80,64.89 L662.30,64.92 L661.80,64.96 L661.30,64.99 L660.80,65.03 L660.30,65.07 L659.80,65.11 L659.30,65.15 L658.80,65.19 L658.30,65.23 L657.80,65.27 L657.30,65.31 L656.80,65.36 L656.30,65.40 L655.80,65.45 L655.30,65.49 L654.80,65.54 L654.30,65.59 L653.80,65.64 L653.30,65.69 L652.80,65.74 L652.30,65.79 L651.80,65.84 L651.30,65.89 L650.80,65.95 L650.30,66.00 L649.80,66.06 L649.30,66.12 L648.80,66.17 L648.30,66.23 L647.80,66.29 L647.30,66.35 L646.80,66.41 L646.30,66.47 L645.80,66.54 L645.30,66.60 L644.80,66.67 L644.30,66.73 L643.80,66.80 L643.30,66.86 L642.80,66.93 L642.30,67.00 L641.80,67.07 L641.30,67.14 L640.80,67.21 L640.30,67.29 L639.80,67.36 L639.30,67.43 L638.80,67.51 L638.30,67.58 L637.80,67.66 L637.30,67.74 L636.80,67.82 L636.30,67.90 L635.80,67.98 L635.30,68.06 L634.80,68.14 L634.30,68.22 L633.80,68.31 L633.30,68.39 L632.80,68.48 L632.30,68.56 L631.80,68.65 L631.30,68.74 L630.80,68.83 L630.30,68.92 L629.80,69.01 L629.30,69.10 L628.80,69.19 L628.30,69.29 L627.80,69.38 L627.30,69.48 L626.80,69.57 L626.30,69.67 L625.80,69.77 L625.30,69.87 L624.80,69.97 L624.30,70.07 L623.80,70.17 L623.30,70.27 L622.80,70.38 L622.30,70.48 L621.80,70.58 L621.30,70.69 L620.80,70.80 L620.30,70.91 L619.80,71.01 L619.30,71.12 L618.80,71.23 L618.30,71.35 L617.80,71.46 L617.30,71.57 L616.80,71.68 L616.30,71.80 L615.80,71.91 L615.30,72.03 L614.80,72.15 L614.30,72.27 L613.80,72.39 L613.30,72.51 L612.80,72.63 L612.30,72.75 L611.80,72.87 L611.30,73.00 L610.80,73.12 L610.30,73.25 L609.80,73.37 L609.30,73.50 L608.80,73.63 L608.30,73.76 L607.80,73.89 L607.30,74.02 L606.80,74.15 L606.30,74.28 L605.80,74.42 L605.30,74.55 L604.80,74.69 L604.30,74.82 L603.80,74.96 L603.30,75.10 L602.80,75.24 L602.30,75.38 L601.80,75.52 L601.30,75.66 L600.80,75.80 L600.30,75.95 L599.80,76.09 L599.30,76.24 L598.80,76.38 L598.30,76.53 L597.80,76.68 L597.30,76.83 L596.80,76.98 L596.30,77.13 L595.80,77.28 L595.30,77.43 L594.80,77.59 L594.30,77.74 L593.80,77.89 L593.30,78.05 L592.80,78.21 L592.30,78.37 L591.80,78.52 L591.30,78.68 L590.80,78.85 L590.30,79.01 L589.80,79.17 L589.30,79.33 L588.80,79.50 L588.30,79.66 L587.80,79.83 L587.30,80.00 L586.80,80.16 L586.30,80.33 L585.80,80.50 L585.30,80.67 L584.80,80.85 L584.30,81.02 L583.80,81.19 L583.30,81.37 L582.80,81.54 L582.30,81.72 L581.80,81.89 L581.30,82.07 L580.80,82.25 L580.30,82.43 L579.80,82.61 L579.30,82.79 L578.80,82.98 L578.30,83.16 L577.80,83.34 L577.30,83.53 L576.80,83.72 L576.30,83.90 L575.80,84.09 L575.30,84.28 L574.80,84.47 L574.30,84.66 L573.80,84.85 L573.30,85.05 L572.80,85.24 L572.30,85.43 L571.80,85.63 L571.30,85.83 L570.80,86.02 L570.30,86.22 L569.80,86.42 L569.30,86.62 L568.80,86.82 L568.30,87.02 L567.80,87.23 L567.30,87.43 L566.80,87.63 L566.30,87.84 L565.80,88.05 L565.30,88.25 L564.80,88.46 L564.30,88.67 L563.80,88.88 L563.30,89.09 L562.80,89.31 L562.30,89.52 Z" fill="#bfe8c0"/>
<path d="M562.30,76.30 L565.27,75.71 L568.24,75.12 L571.22,74.53 L574.19,73.94 L577.16,73.35 L580.13,72.76 L583.10,72.17 L586.07,71.58 L589.05,70.99 L592.02,70.40 L594.99,69.81 L597.96,69.22 L600.93,68.63 L603.91,68.04 L606.88,67.45 L609.85,66.86 L612.82,66.27 L615.79,65.68 L618.76,65.09 L621.74,64.51 L624.71,63.92 L627.68,63.33 L630.65,62.74 L633.62,62.15 L636.59,61.56 L639.57,60.97 L642.54,60.38 L645.51,59.79 L648.48,59.20 L651.45,58.61 L654.43,58.02 L657.40,57.43 L660.37,56.84 L663.34,56.25 L666.31,55.66 L669.28,55.07 L672.26,54.48 L675.23,53.89 L678.20,53.30" fill="none" stroke="#26a82a" stroke-width="1.1"/>
<rect x="556.5" y="34.8" width="127.10000000000002" height="73.4" fill="none" stroke="#8c8c8c" stroke-width="1.1"/>
<text transform="translate(554.50,39.80) scale(0.92,1)" font-size="6.1" text-anchor="end">6</text>
<text transform="translate(554.50,62.20) scale(0.92,1)" font-size="6.1" text-anchor="end">4</text>
<text transform="translate(554.50,84.50) scale(0.92,1)" font-size="6.1" text-anchor="end">2</text>
<text transform="translate(554.50,106.60) scale(0.92,1)" font-size="6.1" text-anchor="end">0</text>
<text x="585.8" y="115.0" font-size="5.5" font-weight="normal" text-anchor="middle" >2.5</text>
<text x="615.1" y="115.0" font-size="5.5" font-weight="normal" text-anchor="middle" >3.0</text>
<text x="644.7" y="115.0" font-size="5.5" font-weight="normal" text-anchor="middle" >3.5</text>
<text x="673.7" y="115.0" font-size="5.5" font-weight="normal" text-anchor="middle" >4.0</text>
<path d="M556.5,37.6 h-1.6 M556.5,60 h-1.6 M556.5,82.3 h-1.6 M556.5,104.4 h-1.6 M585.8,108.2 v1.6 M615.1,108.2 v1.6 M644.7,108.2 v1.6 M673.7,108.2 v1.6" stroke="#8c8c8c" stroke-width="0.9" fill="none"/>
<text x="620.05" y="41.7" font-size="4.85" font-weight="bold" text-anchor="middle" >p = 0.048</text>
<text x="620.55" y="121.4" font-size="5.3" font-weight="bold" text-anchor="middle" >Average depth (m)</text>
<text transform="translate(547.2,72.3) rotate(-90)" font-size="5.3" font-weight="bold" text-anchor="middle">Species richness</text>
<path d="M102.00,140.92 L102.50,141.06 L103.00,141.20 L103.50,141.33 L104.00,141.47 L104.50,141.60 L105.00,141.74 L105.50,141.87 L106.00,142.00 L106.50,142.13 L107.00,142.26 L107.50,142.39 L108.00,142.52 L108.50,142.64 L109.00,142.77 L109.50,142.89 L110.00,143.01 L110.50,143.13 L111.00,143.25 L111.50,143.37 L112.00,143.49 L112.50,143.60 L113.00,143.72 L113.50,143.83 L114.00,143.94 L114.50,144.05 L115.00,144.16 L115.50,144.27 L116.00,144.37 L116.50,144.48 L117.00,144.58 L117.50,144.68 L118.00,144.78 L118.50,144.88 L119.00,144.98 L119.50,145.08 L120.00,145.17 L120.50,145.27 L121.00,145.36 L121.50,145.45 L122.00,145.54 L122.50,145.63 L123.00,145.71 L123.50,145.80 L124.00,145.88 L124.50,145.96 L125.00,146.05 L125.50,146.12 L126.00,146.20 L126.50,146.28 L127.00,146.35 L127.50,146.43 L128.00,146.50 L128.50,146.57 L129.00,146.64 L129.50,146.71 L130.00,146.77 L130.50,146.84 L131.00,146.90 L131.50,146.96 L132.00,147.02 L132.50,147.08 L133.00,147.14 L133.50,147.19 L134.00,147.25 L134.50,147.30 L135.00,147.35 L135.50,147.40 L136.00,147.44 L136.50,147.49 L137.00,147.53 L137.50,147.58 L138.00,147.62 L138.50,147.66 L139.00,147.69 L139.50,147.73 L140.00,147.76 L140.50,147.80 L141.00,147.83 L141.50,147.86 L142.00,147.89 L142.50,147.91 L143.00,147.94 L143.50,147.96 L144.00,147.98 L144.50,148.00 L145.00,148.02 L145.50,148.03 L146.00,148.05 L146.50,148.06 L147.00,148.07 L147.50,148.08 L148.00,148.08 L148.50,148.09 L149.00,148.09 L149.50,148.10 L150.00,148.10 L150.50,148.09 L151.00,148.09 L151.50,148.09 L152.00,148.08 L152.50,148.07 L153.00,148.06 L153.50,148.05 L154.00,148.03 L154.50,148.02 L155.00,148.00 L155.50,147.98 L156.00,147.96 L156.50,147.93 L157.00,147.91 L157.50,147.88 L158.00,147.85 L158.50,147.82 L159.00,147.79 L159.50,147.75 L160.00,147.72 L160.50,147.68 L161.00,147.64 L161.50,147.59 L162.00,147.55 L162.50,147.50 L163.00,147.46 L163.50,147.40 L164.00,147.35 L164.50,147.30 L165.00,147.24 L165.50,147.18 L166.00,147.12 L166.50,147.06 L167.00,147.00 L167.50,146.93 L168.00,146.87 L168.50,146.80 L169.00,146.72 L169.50,146.65 L170.00,146.57 L170.50,146.50 L171.00,146.42 L171.50,146.33 L172.00,146.25 L172.50,146.16 L173.00,146.07 L173.50,145.98 L174.00,145.89 L174.50,145.80 L175.00,145.70 L175.50,145.60 L176.00,145.50 L176.50,145.40 L177.00,145.29 L177.50,145.19 L178.00,145.08 L178.50,144.97 L179.00,144.86 L179.50,144.74 L180.00,144.63 L180.50,144.51 L181.00,144.39 L181.50,144.27 L182.00,144.15 L182.50,144.02 L183.00,143.89 L183.50,143.76 L184.00,143.63 L184.50,143.50 L185.00,143.37 L185.50,143.23 L186.00,143.09 L186.50,142.95 L187.00,142.81 L187.50,142.67 L188.00,142.52 L188.50,142.38 L189.00,142.23 L189.50,142.08 L190.00,141.93 L190.50,141.77 L191.00,141.62 L191.50,141.46 L192.00,141.31 L192.50,141.15 L193.00,140.99 L193.50,140.82 L194.00,140.66 L194.50,140.49 L195.00,140.32 L195.50,140.16 L196.00,139.99 L196.50,139.81 L197.00,139.64 L197.50,139.46 L198.00,139.29 L198.50,139.11 L199.00,138.93 L199.50,138.75 L200.00,138.57 L200.50,138.38 L201.00,138.20 L201.50,138.01 L202.00,137.82 L202.50,137.64 L203.00,137.44 L203.50,137.25 L204.00,137.06 L204.50,136.86 L205.00,136.67 L205.50,136.47 L206.00,136.27 L206.50,136.07 L207.00,135.87 L207.50,135.67 L208.00,135.47 L208.50,135.26 L209.00,135.06 L209.50,134.85 L210.00,134.64 L210.50,134.43 L211.00,134.22 L211.50,134.01 L212.00,133.80 L212.50,133.58 L213.00,133.37 L213.50,133.15 L214.00,132.93 L214.50,132.71 L215.00,132.49 L215.50,132.27 L215.80,132.14 L215.80,185.09 L215.50,185.09 L215.00,185.10 L214.50,185.10 L214.00,185.10 L213.50,185.10 L213.00,185.10 L212.50,185.10 L212.00,185.10 L211.50,185.09 L211.00,185.09 L210.50,185.09 L210.00,185.08 L209.50,185.08 L209.00,185.07 L208.50,185.07 L208.00,185.06 L207.50,185.05 L207.00,185.05 L206.50,185.04 L206.00,185.03 L205.50,185.02 L205.00,185.01 L204.50,185.00 L204.00,184.99 L203.50,184.98 L203.00,184.97 L202.50,184.96 L202.00,184.95 L201.50,184.93 L201.00,184.92 L200.50,184.91 L200.00,184.89 L199.50,184.88 L199.00,184.87 L198.50,184.85 L198.00,184.84 L197.50,184.82 L197.00,184.80 L196.50,184.79 L196.00,184.77 L195.50,184.76 L195.00,184.74 L194.50,184.72 L194.00,184.71 L193.50,184.69 L193.00,184.67 L192.50,184.65 L192.00,184.64 L191.50,184.62 L191.00,184.60 L190.50,184.58 L190.00,184.56 L189.50,184.54 L189.00,184.52 L188.50,184.50 L188.00,184.49 L187.50,184.47 L187.00,184.45 L186.50,184.43 L186.00,184.41 L185.50,184.39 L185.00,184.37 L184.50,184.35 L184.00,184.33 L183.50,184.31 L183.00,184.29 L182.50,184.27 L182.00,184.25 L181.50,184.23 L181.00,184.21 L180.50,184.20 L180.00,184.18 L179.50,184.16 L179.00,184.14 L178.50,184.12 L178.00,184.10 L177.50,184.08 L177.00,184.06 L176.50,184.05 L176.00,184.03 L175.50,184.01 L175.00,183.99 L174.50,183.97 L174.00,183.96 L173.50,183.94 L173.00,183.92 L172.50,183.91 L172.00,183.89 L171.50,183.87 L171.00,183.86 L170.50,183.84 L170.00,183.83 L169.50,183.81 L169.00,183.80 L168.50,183.78 L168.00,183.77 L167.50,183.76 L167.00,183.74 L166.50,183.73 L166.00,183.72 L165.50,183.71 L165.00,183.70 L164.50,183.69 L164.00,183.67 L163.50,183.66 L163.00,183.65 L162.50,183.65 L162.00,183.64 L161.50,183.63 L161.00,183.62 L160.50,183.61 L160.00,183.61 L159.50,183.60 L159.00,183.59 L158.50,183.59 L158.00,183.59 L157.50,183.58 L157.00,183.58 L156.50,183.58 L156.00,183.57 L155.50,183.57 L155.00,183.57 L154.50,183.57 L154.00,183.57 L153.50,183.57 L153.00,183.57 L152.50,183.58 L152.00,183.58 L151.50,183.58 L151.00,183.59 L150.50,183.59 L150.00,183.60 L149.50,183.61 L149.00,183.62 L148.50,183.62 L148.00,183.63 L147.50,183.64 L147.00,183.65 L146.50,183.67 L146.00,183.68 L145.50,183.69 L145.00,183.71 L144.50,183.72 L144.00,183.74 L143.50,183.76 L143.00,183.77 L142.50,183.79 L142.00,183.81 L141.50,183.83 L141.00,183.85 L140.50,183.88 L140.00,183.90 L139.50,183.92 L139.00,183.95 L138.50,183.98 L138.00,184.00 L137.50,184.03 L137.00,184.06 L136.50,184.09 L136.00,184.13 L135.50,184.16 L135.00,184.19 L134.50,184.23 L134.00,184.26 L133.50,184.30 L133.00,184.34 L132.50,184.38 L132.00,184.42 L131.50,184.46 L131.00,184.51 L130.50,184.55 L130.00,184.60 L129.50,184.64 L129.00,184.69 L128.50,184.74 L128.00,184.79 L127.50,184.84 L127.00,184.89 L126.50,184.95 L126.00,185.00 L125.50,185.06 L125.00,185.12 L124.50,185.18 L124.00,185.24 L123.50,185.30 L123.00,185.37 L122.50,185.43 L122.00,185.50 L121.50,185.56 L121.00,185.63 L120.50,185.70 L120.00,185.78 L119.50,185.85 L119.00,185.92 L118.50,186.00 L118.00,186.08 L117.50,186.16 L117.00,186.24 L116.50,186.32 L116.00,186.40 L115.50,186.49 L115.00,186.58 L114.50,186.66 L114.00,186.75 L113.50,186.85 L113.00,186.94 L112.50,187.03 L112.00,187.13 L111.50,187.23 L111.00,187.33 L110.50,187.43 L110.00,187.53 L109.50,187.63 L109.00,187.74 L108.50,187.85 L108.00,187.96 L107.50,188.07 L107.00,188.18 L106.50,188.30 L106.00,188.41 L105.50,188.53 L105.00,188.65 L104.50,188.77 L104.00,188.90 L103.50,189.02 L103.00,189.15 L102.50,189.28 L102.00,189.41 Z" fill="#e8d1bf"/>
<path d="M102.00,175.30 L104.92,175.12 L107.84,174.95 L110.75,174.77 L113.67,174.59 L116.59,174.42 L119.51,174.24 L122.43,174.06 L125.34,173.88 L128.26,173.71 L131.18,173.53 L134.10,173.35 L137.02,173.18 L139.93,173.00 L142.85,172.82 L145.77,172.65 L148.69,172.47 L151.61,172.29 L154.52,172.12 L157.44,171.94 L160.36,171.76 L163.28,171.58 L166.19,171.41 L169.11,171.23 L172.03,171.05 L174.95,170.88 L177.87,170.70 L180.78,170.52 L183.70,170.35 L186.62,170.17 L189.54,169.99 L192.46,169.82 L195.37,169.64 L198.29,169.46 L201.21,169.28 L204.13,169.11 L207.05,168.93 L209.96,168.75 L212.88,168.58 L215.80,168.40" fill="none" stroke="#a04a24" stroke-width="1.1"/>
<rect x="96.4" y="128.4" width="125.19999999999999" height="72.79999999999998" fill="none" stroke="#8c8c8c" stroke-width="1.1"/>
<text transform="translate(94.40,139.60) scale(0.92,1)" font-size="6.1" text-anchor="end">15</text>
<text transform="translate(94.40,159.60) scale(0.92,1)" font-size="6.1" text-anchor="end">10</text>
<text transform="translate(94.40,179.60) scale(0.92,1)" font-size="6.1" text-anchor="end">5</text>
<text transform="translate(94.40,199.50) scale(0.92,1)" font-size="6.1" text-anchor="end">0</text>
<text x="137" y="208.0" font-size="5.5" font-weight="normal" text-anchor="middle" >2</text>
<text x="181.2" y="208.0" font-size="5.5" font-weight="normal" text-anchor="middle" >3</text>
<path d="M96.4,137.4 h-1.6 M96.4,157.4 h-1.6 M96.4,177.4 h-1.6 M96.4,197.3 h-1.6 M137,201.2 v1.6 M181.2,201.2 v1.6" stroke="#8c8c8c" stroke-width="0.9" fill="none"/>
<text x="159.0" y="134.8" font-size="5.2" font-weight="normal" text-anchor="middle" stroke="#000" stroke-width="0.15">p = 0.662</text>
<text x="159.5" y="214.3" font-size="5.3" font-weight="bold" text-anchor="middle" >Roughness</text>
<text transform="translate(84.1,165.4) rotate(-90)" font-size="5.3" font-weight="bold" text-anchor="middle">Abundance</text>
<path d="M259.70,134.61 L260.20,135.18 L260.70,135.75 L261.20,136.31 L261.70,136.86 L262.20,137.40 L262.70,137.94 L263.20,138.48 L263.70,139.00 L264.20,139.52 L264.70,140.04 L265.20,140.55 L265.70,141.05 L266.20,141.55 L266.70,142.04 L267.20,142.52 L267.70,143.00 L268.20,143.47 L268.70,143.94 L269.20,144.40 L269.70,144.86 L270.20,145.30 L270.70,145.75 L271.20,146.19 L271.70,146.62 L272.20,147.05 L272.70,147.47 L273.20,147.88 L273.70,148.29 L274.20,148.70 L274.70,149.10 L275.20,149.49 L275.70,149.88 L276.20,150.27 L276.70,150.64 L277.20,151.02 L277.70,151.39 L278.20,151.75 L278.70,152.11 L279.20,152.46 L279.70,152.81 L280.20,153.16 L280.70,153.50 L281.20,153.83 L281.70,154.16 L282.20,154.49 L282.70,154.81 L283.20,155.13 L283.70,155.44 L284.20,155.75 L284.70,156.06 L285.20,156.36 L285.70,156.66 L286.20,156.95 L286.70,157.24 L287.20,157.52 L287.70,157.81 L288.20,158.08 L288.70,158.36 L289.20,158.63 L289.70,158.90 L290.20,159.16 L290.70,159.42 L291.20,159.68 L291.70,159.93 L292.20,160.18 L292.70,160.43 L293.20,160.67 L293.70,160.91 L294.20,161.15 L294.70,161.38 L295.20,161.61 L295.70,161.84 L296.20,162.07 L296.70,162.29 L297.20,162.51 L297.70,162.73 L298.20,162.95 L298.70,163.16 L299.20,163.37 L299.70,163.58 L300.20,163.79 L300.70,163.99 L301.20,164.19 L301.70,164.39 L302.20,164.59 L302.70,164.78 L303.20,164.98 L303.70,165.17 L304.20,165.36 L304.70,165.55 L305.20,165.73 L305.70,165.92 L306.20,166.10 L306.70,166.28 L307.20,166.46 L307.70,166.64 L308.20,166.82 L308.70,166.99 L309.20,167.17 L309.70,167.34 L310.20,167.51 L310.70,167.68 L311.20,167.85 L311.70,168.02 L312.20,168.19 L312.70,168.36 L313.20,168.52 L313.70,168.68 L314.20,168.85 L314.70,169.01 L315.20,169.17 L315.70,169.33 L316.20,169.48 L316.70,169.64 L317.20,169.79 L317.70,169.94 L318.20,170.10 L318.70,170.25 L319.20,170.40 L319.70,170.54 L320.20,170.69 L320.70,170.83 L321.20,170.98 L321.70,171.12 L322.20,171.26 L322.70,171.40 L323.20,171.53 L323.70,171.67 L324.20,171.80 L324.70,171.94 L325.20,172.07 L325.70,172.20 L326.20,172.33 L326.70,172.45 L327.20,172.58 L327.70,172.70 L328.20,172.82 L328.70,172.94 L329.20,173.06 L329.70,173.18 L330.20,173.30 L330.70,173.41 L331.20,173.52 L331.70,173.63 L332.20,173.74 L332.70,173.85 L333.20,173.96 L333.70,174.06 L334.20,174.16 L334.70,174.26 L335.20,174.36 L335.70,174.46 L336.20,174.56 L336.70,174.65 L337.20,174.74 L337.70,174.83 L338.20,174.92 L338.70,175.01 L339.20,175.09 L339.70,175.18 L340.20,175.26 L340.70,175.34 L341.20,175.41 L341.70,175.49 L342.20,175.57 L342.70,175.64 L343.20,175.71 L343.70,175.78 L344.20,175.84 L344.70,175.91 L345.20,175.97 L345.70,176.03 L346.20,176.09 L346.70,176.15 L347.20,176.21 L347.70,176.26 L348.20,176.31 L348.70,176.36 L349.20,176.42 L349.70,176.46 L350.20,176.51 L350.70,176.56 L351.20,176.60 L351.70,176.65 L352.20,176.69 L352.70,176.73 L353.20,176.77 L353.70,176.81 L354.20,176.85 L354.70,176.89 L355.20,176.92 L355.70,176.96 L356.20,176.99 L356.70,177.03 L357.20,177.06 L357.70,177.09 L358.20,177.13 L358.70,177.16 L359.20,177.19 L359.70,177.22 L360.20,177.25 L360.70,177.28 L361.20,177.31 L361.70,177.34 L362.20,177.37 L362.70,177.40 L363.20,177.43 L363.70,177.45 L364.20,177.48 L364.70,177.51 L365.20,177.54 L365.70,177.57 L366.20,177.60 L366.70,177.63 L367.20,177.66 L367.70,177.69 L368.20,177.72 L368.70,177.75 L369.20,177.78 L369.70,177.81 L370.20,177.84 L370.70,177.87 L371.20,177.91 L371.70,177.94 L372.20,177.98 L372.70,178.01 L373.20,178.05 L373.60,178.08 L373.60,191.10 L373.20,191.03 L372.70,190.93 L372.20,190.84 L371.70,190.75 L371.20,190.65 L370.70,190.56 L370.20,190.47 L369.70,190.38 L369.20,190.29 L368.70,190.20 L368.20,190.11 L367.70,190.02 L367.20,189.94 L366.70,189.85 L366.20,189.76 L365.70,189.67 L365.20,189.59 L364.70,189.50 L364.20,189.42 L363.70,189.33 L363.20,189.25 L362.70,189.16 L362.20,189.08 L361.70,189.00 L361.20,188.91 L360.70,188.83 L360.20,188.75 L359.70,188.67 L359.20,188.59 L358.70,188.51 L358.20,188.43 L357.70,188.35 L357.20,188.27 L356.70,188.19 L356.20,188.11 L355.70,188.03 L355.20,187.95 L354.70,187.88 L354.20,187.80 L353.70,187.72 L353.20,187.65 L352.70,187.57 L352.20,187.50 L351.70,187.42 L351.20,187.35 L350.70,187.27 L350.20,187.20 L349.70,187.13 L349.20,187.06 L348.70,186.98 L348.20,186.91 L347.70,186.84 L347.20,186.77 L346.70,186.70 L346.20,186.63 L345.70,186.56 L345.20,186.49 L344.70,186.42 L344.20,186.35 L343.70,186.28 L343.20,186.21 L342.70,186.15 L342.20,186.08 L341.70,186.01 L341.20,185.95 L340.70,185.88 L340.20,185.81 L339.70,185.75 L339.20,185.68 L338.70,185.62 L338.20,185.55 L337.70,185.49 L337.20,185.43 L336.70,185.36 L336.20,185.30 L335.70,185.24 L335.20,185.17 L334.70,185.11 L334.20,185.05 L333.70,184.99 L333.20,184.93 L332.70,184.87 L332.20,184.81 L331.70,184.75 L331.20,184.69 L330.70,184.63 L330.20,184.57 L329.70,184.51 L329.20,184.45 L328.70,184.39 L328.20,184.34 L327.70,184.28 L327.20,184.22 L326.70,184.17 L326.20,184.11 L325.70,184.05 L325.20,184.00 L324.70,183.94 L324.20,183.89 L323.70,183.83 L323.20,183.78 L322.70,183.72 L322.20,183.67 L321.70,183.61 L321.20,183.56 L320.70,183.51 L320.20,183.45 L319.70,183.40 L319.20,183.35 L318.70,183.30 L318.20,183.24 L317.70,183.19 L317.20,183.14 L316.70,183.09 L316.20,183.04 L315.70,182.99 L315.20,182.94 L314.70,182.89 L314.20,182.84 L313.70,182.79 L313.20,182.74 L312.70,182.69 L312.20,182.64 L311.70,182.59 L311.20,182.55 L310.70,182.50 L310.20,182.45 L309.70,182.40 L309.20,182.36 L308.70,182.31 L308.20,182.26 L307.70,182.21 L307.20,182.17 L306.70,182.12 L306.20,182.08 L305.70,182.03 L305.20,181.99 L304.70,181.94 L304.20,181.89 L303.70,181.85 L303.20,181.81 L302.70,181.76 L302.20,181.72 L301.70,181.67 L301.20,181.63 L300.70,181.59 L300.20,181.54 L299.70,181.50 L299.20,181.46 L298.70,181.41 L298.20,181.37 L297.70,181.33 L297.20,181.29 L296.70,181.24 L296.20,181.20 L295.70,181.16 L295.20,181.12 L294.70,181.08 L294.20,181.04 L293.70,181.00 L293.20,180.96 L292.70,180.92 L292.20,180.88 L291.70,180.83 L291.20,180.79 L290.70,180.76 L290.20,180.72 L289.70,180.68 L289.20,180.64 L288.70,180.60 L288.20,180.56 L287.70,180.52 L287.20,180.48 L286.70,180.44 L286.20,180.40 L285.70,180.37 L285.20,180.33 L284.70,180.29 L284.20,180.25 L283.70,180.21 L283.20,180.18 L282.70,180.14 L282.20,180.10 L281.70,180.06 L281.20,180.03 L280.70,179.99 L280.20,179.95 L279.70,179.92 L279.20,179.88 L278.70,179.84 L278.20,179.81 L277.70,179.77 L277.20,179.73 L276.70,179.70 L276.20,179.66 L275.70,179.63 L275.20,179.59 L274.70,179.56 L274.20,179.52 L273.70,179.48 L273.20,179.45 L272.70,179.41 L272.20,179.38 L271.70,179.34 L271.20,179.31 L270.70,179.27 L270.20,179.24 L269.70,179.20 L269.20,179.17 L268.70,179.13 L268.20,179.10 L267.70,179.07 L267.20,179.03 L266.70,179.00 L266.20,178.96 L265.70,178.93 L265.20,178.89 L264.70,178.86 L264.20,178.83 L263.70,178.79 L263.20,178.76 L262.70,178.73 L262.20,178.69 L261.70,178.66 L261.20,178.62 L260.70,178.59 L260.20,178.56 L259.70,178.52 Z" fill="#bfe8c0"/>
<path d="M259.70,162.58 L260.20,162.76 L260.70,162.94 L261.20,163.12 L261.70,163.30 L262.20,163.47 L262.70,163.65 L263.20,163.82 L263.70,164.00 L264.20,164.17 L264.70,164.34 L265.20,164.51 L265.70,164.68 L266.20,164.85 L266.70,165.02 L267.20,165.18 L267.70,165.35 L268.20,165.51 L268.70,165.68 L269.20,165.84 L269.70,166.00 L270.20,166.16 L270.70,166.32 L271.20,166.48 L271.70,166.64 L272.20,166.79 L272.70,166.95 L273.20,167.11 L273.70,167.26 L274.20,167.41 L274.70,167.57 L275.20,167.72 L275.70,167.87 L276.20,168.02 L276.70,168.17 L277.20,168.31 L277.70,168.46 L278.20,168.61 L278.70,168.75 L279.20,168.90 L279.70,169.04 L280.20,169.19 L280.70,169.33 L281.20,169.47 L281.70,169.61 L282.20,169.75 L282.70,169.89 L283.20,170.02 L283.70,170.16 L284.20,170.30 L284.70,170.43 L285.20,170.57 L285.70,170.70 L286.20,170.84 L286.70,170.97 L287.20,171.10 L287.70,171.23 L288.20,171.36 L288.70,171.49 L289.20,171.62 L289.70,171.74 L290.20,171.87 L290.70,172.00 L291.20,172.12 L291.70,172.25 L292.20,172.37 L292.70,172.49 L293.20,172.62 L293.70,172.74 L294.20,172.86 L294.70,172.98 L295.20,173.10 L295.70,173.22 L296.20,173.34 L296.70,173.45 L297.20,173.57 L297.70,173.69 L298.20,173.80 L298.70,173.92 L299.20,174.03 L299.70,174.15 L300.20,174.26 L300.70,174.37 L301.20,174.48 L301.70,174.59 L302.20,174.70 L302.70,174.81 L303.20,174.92 L303.70,175.03 L304.20,175.14 L304.70,175.24 L305.20,175.35 L305.70,175.46 L306.20,175.56 L306.70,175.67 L307.20,175.77 L307.70,175.87 L308.20,175.98 L308.70,176.08 L309.20,176.18 L309.70,176.28 L310.20,176.38 L310.70,176.48 L311.20,176.58 L311.70,176.68 L312.20,176.78 L312.70,176.88 L313.20,176.97 L313.70,177.07 L314.20,177.17 L314.70,177.26 L315.20,177.36 L315.70,177.45 L316.20,177.55 L316.70,177.64 L317.20,177.73 L317.70,177.83 L318.20,177.92 L318.70,178.01 L319.20,178.10 L319.70,178.19 L320.20,178.28 L320.70,178.37 L321.20,178.46 L321.70,178.55 L322.20,178.64 L322.70,178.73 L323.20,178.81 L323.70,178.90 L324.20,178.99 L324.70,179.07 L325.20,179.16 L325.70,179.24 L326.20,179.33 L326.70,179.41 L327.20,179.50 L327.70,179.58 L328.20,179.67 L328.70,179.75 L329.20,179.83 L329.70,179.91 L330.20,179.99 L330.70,180.08 L331.20,180.16 L331.70,180.24 L332.20,180.32 L332.70,180.40 L333.20,180.48 L333.70,180.56 L334.20,180.64 L334.70,180.71 L335.20,180.79 L335.70,180.87 L336.20,180.95 L336.70,181.02 L337.20,181.10 L337.70,181.18 L338.20,181.25 L338.70,181.33 L339.20,181.41 L339.70,181.48 L340.20,181.56 L340.70,181.63 L341.20,181.71 L341.70,181.78 L342.20,181.85 L342.70,181.93 L343.20,182.00 L343.70,182.07 L344.20,182.15 L344.70,182.22 L345.20,182.29 L345.70,182.37 L346.20,182.44 L346.70,182.51 L347.20,182.58 L347.70,182.65 L348.20,182.72 L348.70,182.79 L349.20,182.87 L349.70,182.94 L350.20,183.01 L350.70,183.08 L351.20,183.15 L351.70,183.22 L352.20,183.29 L352.70,183.36 L353.20,183.42 L353.70,183.49 L354.20,183.56 L354.70,183.63 L355.20,183.70 L355.70,183.77 L356.20,183.84 L356.70,183.91 L357.20,183.97 L357.70,184.04 L358.20,184.11 L358.70,184.18 L359.20,184.25 L359.70,184.31 L360.20,184.38 L360.70,184.45 L361.20,184.52 L361.70,184.58 L362.20,184.65 L362.70,184.72 L363.20,184.78 L363.70,184.85 L364.20,184.92 L364.70,184.99 L365.20,185.05 L365.70,185.12 L366.20,185.19 L366.70,185.25 L367.20,185.32 L367.70,185.39 L368.20,185.45 L368.70,185.52 L369.20,185.59 L369.70,185.65 L370.20,185.72 L370.70,185.78 L371.20,185.85 L371.70,185.92 L372.20,185.98 L372.70,186.05 L373.20,186.12 L373.60,186.17" fill="none" stroke="#26a82a" stroke-width="1.1"/>
<rect x="254.4" y="128.45" width="125.20000000000002" height="72.85000000000002" fill="none" stroke="#8c8c8c" stroke-width="1.1"/>
<text transform="translate(252.40,133.80) scale(0.92,1)" font-size="6.1" text-anchor="end">50</text>
<text transform="translate(252.40,147.20) scale(0.92,1)" font-size="6.1" text-anchor="end">40</text>
<text transform="translate(252.40,160.40) scale(0.92,1)" font-size="6.1" text-anchor="end">30</text>
<text transform="translate(252.40,173.50) scale(0.92,1)" font-size="6.1" text-anchor="end">20</text>
<text transform="translate(252.40,186.60) scale(0.92,1)" font-size="6.1" text-anchor="end">10</text>
<text transform="translate(252.40,199.70) scale(0.92,1)" font-size="6.1" text-anchor="end">0</text>
<text x="277.3" y="208.1" font-size="5.5" font-weight="normal" text-anchor="middle" >2.1</text>
<text x="308.8" y="208.1" font-size="5.5" font-weight="normal" text-anchor="middle" >2.4</text>
<text x="339.9" y="208.1" font-size="5.5" font-weight="normal" text-anchor="middle" >2.7</text>
<text x="370.4" y="208.1" font-size="5.5" font-weight="normal" text-anchor="middle" >3.0</text>
<path d="M254.4,131.6 h-1.6 M254.4,145 h-1.6 M254.4,158.2 h-1.6 M254.4,171.3 h-1.6 M254.4,184.4 h-1.6 M254.4,197.5 h-1.6 M277.3,201.3 v1.6 M308.8,201.3 v1.6 M339.9,201.3 v1.6 M370.4,201.3 v1.6" stroke="#8c8c8c" stroke-width="0.9" fill="none"/>
<text x="317.0" y="134.8" font-size="5.2" font-weight="normal" text-anchor="middle" stroke="#000" stroke-width="0.15">p = 0.178</text>
<text x="317.5" y="214.3" font-size="5.3" font-weight="bold" text-anchor="middle" >Roughness</text>
<text transform="translate(241.3,165.5) rotate(-90)" font-size="5.3" font-weight="bold" text-anchor="middle">Abundance</text>
<path d="M410.70,153.86 L411.20,153.90 L411.70,153.93 L412.20,153.97 L412.70,154.00 L413.20,154.04 L413.70,154.07 L414.20,154.10 L414.70,154.13 L415.20,154.16 L415.70,154.19 L416.20,154.21 L416.70,154.24 L417.20,154.26 L417.70,154.29 L418.20,154.31 L418.70,154.33 L419.20,154.35 L419.70,154.37 L420.20,154.39 L420.70,154.41 L421.20,154.42 L421.70,154.44 L422.20,154.45 L422.70,154.46 L423.20,154.48 L423.70,154.49 L424.20,154.50 L424.70,154.50 L425.20,154.51 L425.70,154.52 L426.20,154.52 L426.70,154.53 L427.20,154.53 L427.70,154.53 L428.20,154.53 L428.70,154.53 L429.20,154.53 L429.70,154.53 L430.20,154.52 L430.70,154.52 L431.20,154.51 L431.70,154.51 L432.20,154.50 L432.70,154.49 L433.20,154.48 L433.70,154.47 L434.20,154.46 L434.70,154.44 L435.20,154.43 L435.70,154.41 L436.20,154.39 L436.70,154.38 L437.20,154.36 L437.70,154.34 L438.20,154.31 L438.70,154.29 L439.20,154.27 L439.70,154.24 L440.20,154.22 L440.70,154.19 L441.20,154.16 L441.70,154.13 L442.20,154.10 L442.70,154.07 L443.20,154.04 L443.70,154.00 L444.20,153.97 L444.70,153.93 L445.20,153.90 L445.70,153.86 L446.20,153.82 L446.70,153.78 L447.20,153.73 L447.70,153.69 L448.20,153.65 L448.70,153.60 L449.20,153.56 L449.70,153.51 L450.20,153.46 L450.70,153.41 L451.20,153.36 L451.70,153.31 L452.20,153.25 L452.70,153.20 L453.20,153.14 L453.70,153.09 L454.20,153.03 L454.70,152.97 L455.20,152.91 L455.70,152.85 L456.20,152.78 L456.70,152.72 L457.20,152.65 L457.70,152.59 L458.20,152.52 L458.70,152.45 L459.20,152.38 L459.70,152.31 L460.20,152.24 L460.70,152.17 L461.20,152.09 L461.70,152.02 L462.20,151.94 L462.70,151.86 L463.20,151.78 L463.70,151.70 L464.20,151.62 L464.70,151.54 L465.20,151.45 L465.70,151.37 L466.20,151.28 L466.70,151.19 L467.20,151.11 L467.70,151.02 L468.20,150.92 L468.70,150.83 L469.20,150.74 L469.70,150.64 L470.20,150.55 L470.70,150.45 L471.20,150.35 L471.70,150.25 L472.20,150.15 L472.70,150.05 L473.20,149.95 L473.70,149.84 L474.20,149.74 L474.70,149.63 L475.20,149.52 L475.70,149.41 L476.20,149.30 L476.70,149.19 L477.20,149.08 L477.70,148.96 L478.20,148.85 L478.70,148.73 L479.20,148.61 L479.70,148.50 L480.20,148.38 L480.70,148.25 L481.20,148.13 L481.70,148.01 L482.20,147.88 L482.70,147.76 L483.20,147.63 L483.70,147.50 L484.20,147.37 L484.70,147.24 L485.20,147.11 L485.70,146.97 L486.20,146.84 L486.70,146.70 L487.20,146.56 L487.70,146.42 L488.20,146.28 L488.70,146.14 L489.20,146.00 L489.70,145.86 L490.20,145.71 L490.70,145.57 L491.20,145.42 L491.70,145.27 L492.20,145.12 L492.70,144.97 L493.20,144.82 L493.70,144.66 L494.20,144.51 L494.70,144.35 L495.20,144.19 L495.70,144.03 L496.20,143.87 L496.70,143.71 L497.20,143.55 L497.70,143.39 L498.20,143.22 L498.70,143.05 L499.20,142.89 L499.70,142.72 L500.20,142.55 L500.70,142.37 L501.20,142.20 L501.70,142.03 L502.20,141.85 L502.70,141.68 L503.20,141.50 L503.70,141.32 L504.20,141.14 L504.70,140.96 L505.20,140.77 L505.70,140.59 L506.20,140.40 L506.70,140.22 L507.20,140.03 L507.70,139.84 L508.20,139.65 L508.70,139.45 L509.20,139.26 L509.70,139.07 L510.20,138.87 L510.70,138.67 L511.20,138.47 L511.70,138.27 L512.20,138.07 L512.70,137.87 L513.20,137.67 L513.70,137.46 L514.20,137.25 L514.70,137.05 L515.20,136.84 L515.70,136.63 L516.20,136.41 L516.70,136.20 L517.20,135.99 L517.70,135.77 L518.20,135.55 L518.70,135.34 L519.20,135.12 L519.70,134.89 L520.20,134.67 L520.70,134.45 L521.20,134.22 L521.70,134.00 L522.20,133.77 L522.70,133.54 L523.20,133.31 L523.70,133.08 L524.20,132.85 L524.70,132.61 L525.20,132.37 L525.60,132.19 L525.60,175.93 L525.20,175.92 L524.70,175.92 L524.20,175.91 L523.70,175.91 L523.20,175.90 L522.70,175.90 L522.20,175.90 L521.70,175.90 L521.20,175.90 L520.70,175.89 L520.20,175.89 L519.70,175.89 L519.20,175.89 L518.70,175.90 L518.20,175.90 L517.70,175.90 L517.20,175.90 L516.70,175.90 L516.20,175.91 L515.70,175.91 L515.20,175.92 L514.70,175.92 L514.20,175.93 L513.70,175.94 L513.20,175.94 L512.70,175.95 L512.20,175.96 L511.70,175.97 L511.20,175.97 L510.70,175.98 L510.20,175.99 L509.70,176.00 L509.20,176.01 L508.70,176.03 L508.20,176.04 L507.70,176.05 L507.20,176.06 L506.70,176.08 L506.20,176.09 L505.70,176.10 L505.20,176.12 L504.70,176.13 L504.20,176.15 L503.70,176.17 L503.20,176.18 L502.70,176.20 L502.20,176.22 L501.70,176.24 L501.20,176.25 L500.70,176.27 L500.20,176.29 L499.70,176.31 L499.20,176.33 L498.70,176.35 L498.20,176.38 L497.70,176.40 L497.20,176.42 L496.70,176.44 L496.20,176.47 L495.70,176.49 L495.20,176.51 L494.70,176.54 L494.20,176.56 L493.70,176.59 L493.20,176.61 L492.70,176.64 L492.20,176.67 L491.70,176.69 L491.20,176.72 L490.70,176.75 L490.20,176.78 L489.70,176.81 L489.20,176.84 L488.70,176.87 L488.20,176.90 L487.70,176.93 L487.20,176.96 L486.70,176.99 L486.20,177.02 L485.70,177.05 L485.20,177.09 L484.70,177.12 L484.20,177.15 L483.70,177.19 L483.20,177.22 L482.70,177.25 L482.20,177.29 L481.70,177.32 L481.20,177.36 L480.70,177.40 L480.20,177.43 L479.70,177.47 L479.20,177.51 L478.70,177.55 L478.20,177.58 L477.70,177.62 L477.20,177.66 L476.70,177.70 L476.20,177.74 L475.70,177.78 L475.20,177.82 L474.70,177.86 L474.20,177.90 L473.70,177.94 L473.20,177.99 L472.70,178.03 L472.20,178.07 L471.70,178.11 L471.20,178.16 L470.70,178.20 L470.20,178.25 L469.70,178.29 L469.20,178.33 L468.70,178.38 L468.20,178.43 L467.70,178.47 L467.20,178.52 L466.70,178.56 L466.20,178.61 L465.70,178.66 L465.20,178.71 L464.70,178.75 L464.20,178.80 L463.70,178.85 L463.20,178.90 L462.70,178.95 L462.20,179.00 L461.70,179.05 L461.20,179.10 L460.70,179.15 L460.20,179.20 L459.70,179.25 L459.20,179.30 L458.70,179.35 L458.20,179.41 L457.70,179.46 L457.20,179.51 L456.70,179.57 L456.20,179.62 L455.70,179.67 L455.20,179.73 L454.70,179.78 L454.20,179.84 L453.70,179.89 L453.20,179.95 L452.70,180.00 L452.20,180.06 L451.70,180.11 L451.20,180.17 L450.70,180.23 L450.20,180.28 L449.70,180.34 L449.20,180.40 L448.70,180.46 L448.20,180.51 L447.70,180.57 L447.20,180.63 L446.70,180.69 L446.20,180.75 L445.70,180.81 L445.20,180.87 L444.70,180.93 L444.20,180.99 L443.70,181.05 L443.20,181.11 L442.70,181.17 L442.20,181.23 L441.70,181.29 L441.20,181.35 L440.70,181.42 L440.20,181.48 L439.70,181.54 L439.20,181.60 L438.70,181.67 L438.20,181.73 L437.70,181.79 L437.20,181.86 L436.70,181.92 L436.20,181.99 L435.70,182.05 L435.20,182.11 L434.70,182.18 L434.20,182.24 L433.70,182.31 L433.20,182.38 L432.70,182.44 L432.20,182.51 L431.70,182.57 L431.20,182.64 L430.70,182.71 L430.20,182.77 L429.70,182.84 L429.20,182.91 L428.70,182.98 L428.20,183.04 L427.70,183.11 L427.20,183.18 L426.70,183.25 L426.20,183.32 L425.70,183.39 L425.20,183.45 L424.70,183.52 L424.20,183.59 L423.70,183.66 L423.20,183.73 L422.70,183.80 L422.20,183.87 L421.70,183.94 L421.20,184.01 L420.70,184.08 L420.20,184.15 L419.70,184.23 L419.20,184.30 L418.70,184.37 L418.20,184.44 L417.70,184.51 L417.20,184.58 L416.70,184.65 L416.20,184.73 L415.70,184.80 L415.20,184.87 L414.70,184.94 L414.20,185.02 L413.70,185.09 L413.20,185.16 L412.70,185.24 L412.20,185.31 L411.70,185.38 L411.20,185.46 L410.70,185.53 Z" fill="#e8d1bf"/>
<path d="M410.70,174.40 L413.65,174.01 L416.59,173.61 L419.54,173.22 L422.48,172.82 L425.43,172.43 L428.38,172.03 L431.32,171.64 L434.27,171.24 L437.22,170.85 L440.16,170.45 L443.11,170.06 L446.05,169.66 L449.00,169.27 L451.95,168.87 L454.89,168.48 L457.84,168.08 L460.78,167.69 L463.73,167.29 L466.68,166.90 L469.62,166.50 L472.57,166.11 L475.52,165.71 L478.46,165.32 L481.41,164.92 L484.35,164.53 L487.30,164.13 L490.25,163.74 L493.19,163.34 L496.14,162.95 L499.08,162.55 L502.03,162.16 L504.98,161.76 L507.92,161.37 L510.87,160.97 L513.82,160.58 L516.76,160.18 L519.71,159.79 L522.65,159.39 L525.60,159.00" fill="none" stroke="#a04a24" stroke-width="1.1"/>
<rect x="405.2" y="128.3" width="126.19999999999999" height="72.0" fill="none" stroke="#8c8c8c" stroke-width="1.1"/>
<text transform="translate(403.20,136.20) scale(0.92,1)" font-size="6.1" text-anchor="end">4</text>
<text transform="translate(403.20,152.10) scale(0.92,1)" font-size="6.1" text-anchor="end">3</text>
<text transform="translate(403.20,167.70) scale(0.92,1)" font-size="6.1" text-anchor="end">2</text>
<text transform="translate(403.20,183.20) scale(0.92,1)" font-size="6.1" text-anchor="end">1</text>
<text transform="translate(403.20,199.40) scale(0.92,1)" font-size="6.1" text-anchor="end">0</text>
<text x="446" y="207.1" font-size="5.5" font-weight="normal" text-anchor="middle" >2</text>
<text x="490.9" y="207.1" font-size="5.5" font-weight="normal" text-anchor="middle" >3</text>
<path d="M405.2,134 h-1.6 M405.2,149.9 h-1.6 M405.2,165.5 h-1.6 M405.2,181 h-1.6 M405.2,197.2 h-1.6 M446,200.3 v1.6 M490.9,200.3 v1.6" stroke="#8c8c8c" stroke-width="0.9" fill="none"/>
<text x="468.29999999999995" y="134.8" font-size="5.2" font-weight="normal" text-anchor="middle" stroke="#000" stroke-width="0.15">p = 0.230</text>
<text x="468.79999999999995" y="214.3" font-size="5.3" font-weight="bold" text-anchor="middle" >Roughness</text>
<text transform="translate(396.9,165.2) rotate(-90)" font-size="5.3" font-weight="bold" text-anchor="middle">Species richness</text>
<path d="M562.90,132.50 L563.40,132.72 L563.90,132.94 L564.40,133.16 L564.90,133.39 L565.40,133.61 L565.90,133.83 L566.40,134.05 L566.90,134.28 L567.40,134.50 L567.90,134.72 L568.40,134.95 L568.90,135.17 L569.40,135.40 L569.90,135.62 L570.40,135.85 L570.90,136.07 L571.40,136.30 L571.90,136.52 L572.40,136.75 L572.90,136.98 L573.40,137.20 L573.90,137.43 L574.40,137.65 L574.90,137.88 L575.40,138.11 L575.90,138.33 L576.40,138.56 L576.90,138.79 L577.40,139.01 L577.90,139.24 L578.40,139.47 L578.90,139.69 L579.40,139.92 L579.90,140.15 L580.40,140.37 L580.90,140.60 L581.40,140.82 L581.90,141.05 L582.40,141.28 L582.90,141.50 L583.40,141.73 L583.90,141.95 L584.40,142.18 L584.90,142.41 L585.40,142.63 L585.90,142.86 L586.40,143.08 L586.90,143.31 L587.40,143.53 L587.90,143.75 L588.40,143.98 L588.90,144.20 L589.40,144.42 L589.90,144.65 L590.40,144.87 L590.90,145.09 L591.40,145.31 L591.90,145.54 L592.40,145.76 L592.90,145.98 L593.40,146.20 L593.90,146.42 L594.40,146.64 L594.90,146.86 L595.40,147.08 L595.90,147.29 L596.40,147.51 L596.90,147.73 L597.40,147.95 L597.90,148.16 L598.40,148.38 L598.90,148.59 L599.40,148.81 L599.90,149.02 L600.40,149.23 L600.90,149.45 L601.40,149.66 L601.90,149.87 L602.40,150.08 L602.90,150.29 L603.40,150.50 L603.90,150.71 L604.40,150.92 L604.90,151.13 L605.40,151.33 L605.90,151.54 L606.40,151.74 L606.90,151.95 L607.40,152.15 L607.90,152.36 L608.40,152.56 L608.90,152.76 L609.40,152.96 L609.90,153.16 L610.40,153.36 L610.90,153.56 L611.40,153.75 L611.90,153.95 L612.40,154.15 L612.90,154.34 L613.40,154.53 L613.90,154.73 L614.40,154.92 L614.90,155.11 L615.40,155.30 L615.90,155.49 L616.40,155.67 L616.90,155.86 L617.40,156.05 L617.90,156.23 L618.40,156.41 L618.90,156.60 L619.40,156.78 L619.90,156.96 L620.40,157.14 L620.90,157.31 L621.40,157.49 L621.90,157.67 L622.40,157.84 L622.90,158.01 L623.40,158.19 L623.90,158.36 L624.40,158.53 L624.90,158.69 L625.40,158.86 L625.90,159.03 L626.40,159.19 L626.90,159.36 L627.40,159.52 L627.90,159.68 L628.40,159.84 L628.90,160.00 L629.40,160.15 L629.90,160.31 L630.40,160.46 L630.90,160.62 L631.40,160.77 L631.90,160.92 L632.40,161.07 L632.90,161.22 L633.40,161.37 L633.90,161.51 L634.40,161.66 L634.90,161.80 L635.40,161.94 L635.90,162.08 L636.40,162.22 L636.90,162.36 L637.40,162.50 L637.90,162.64 L638.40,162.77 L638.90,162.91 L639.40,163.04 L639.90,163.17 L640.40,163.30 L640.90,163.43 L641.40,163.56 L641.90,163.68 L642.40,163.81 L642.90,163.94 L643.40,164.06 L643.90,164.18 L644.40,164.30 L644.90,164.42 L645.40,164.54 L645.90,164.66 L646.40,164.78 L646.90,164.89 L647.40,165.01 L647.90,165.12 L648.40,165.23 L648.90,165.34 L649.40,165.45 L649.90,165.56 L650.40,165.67 L650.90,165.78 L651.40,165.88 L651.90,165.99 L652.40,166.09 L652.90,166.19 L653.40,166.30 L653.90,166.40 L654.40,166.49 L654.90,166.59 L655.40,166.69 L655.90,166.79 L656.40,166.88 L656.90,166.97 L657.40,167.07 L657.90,167.16 L658.40,167.25 L658.90,167.34 L659.40,167.43 L659.90,167.52 L660.40,167.60 L660.90,167.69 L661.40,167.77 L661.90,167.86 L662.40,167.94 L662.90,168.02 L663.40,168.10 L663.90,168.18 L664.40,168.26 L664.90,168.34 L665.40,168.41 L665.90,168.49 L666.40,168.56 L666.90,168.63 L667.40,168.71 L667.90,168.78 L668.40,168.85 L668.90,168.92 L669.40,168.99 L669.90,169.05 L670.40,169.12 L670.90,169.19 L671.40,169.25 L671.90,169.32 L672.40,169.38 L672.90,169.44 L673.40,169.50 L673.90,169.56 L674.40,169.62 L674.90,169.68 L675.40,169.74 L675.90,169.79 L676.40,169.85 L676.90,169.90 L677.40,169.95 L677.90,170.01 L678.20,170.04 L678.20,187.01 L677.90,186.93 L677.40,186.79 L676.90,186.65 L676.40,186.51 L675.90,186.37 L675.40,186.22 L674.90,186.08 L674.40,185.94 L673.90,185.79 L673.40,185.65 L672.90,185.50 L672.40,185.35 L671.90,185.21 L671.40,185.06 L670.90,184.91 L670.40,184.76 L669.90,184.61 L669.40,184.46 L668.90,184.31 L668.40,184.16 L667.90,184.00 L667.40,183.85 L666.90,183.69 L666.40,183.54 L665.90,183.39 L665.40,183.23 L664.90,183.07 L664.40,182.92 L663.90,182.76 L663.40,182.60 L662.90,182.44 L662.40,182.28 L661.90,182.12 L661.40,181.96 L660.90,181.80 L660.40,181.64 L659.90,181.48 L659.40,181.32 L658.90,181.16 L658.40,180.99 L657.90,180.83 L657.40,180.67 L656.90,180.50 L656.40,180.34 L655.90,180.17 L655.40,180.01 L654.90,179.84 L654.40,179.68 L653.90,179.51 L653.40,179.34 L652.90,179.18 L652.40,179.01 L651.90,178.84 L651.40,178.67 L650.90,178.51 L650.40,178.34 L649.90,178.17 L649.40,178.00 L648.90,177.83 L648.40,177.66 L647.90,177.49 L647.40,177.32 L646.90,177.15 L646.40,176.98 L645.90,176.81 L645.40,176.64 L644.90,176.47 L644.40,176.30 L643.90,176.13 L643.40,175.96 L642.90,175.79 L642.40,175.62 L641.90,175.45 L641.40,175.28 L640.90,175.11 L640.40,174.94 L639.90,174.77 L639.40,174.59 L638.90,174.42 L638.40,174.25 L637.90,174.08 L637.40,173.91 L636.90,173.74 L636.40,173.57 L635.90,173.40 L635.40,173.23 L634.90,173.05 L634.40,172.88 L633.90,172.71 L633.40,172.54 L632.90,172.37 L632.40,172.20 L631.90,172.03 L631.40,171.86 L630.90,171.69 L630.40,171.52 L629.90,171.35 L629.40,171.18 L628.90,171.01 L628.40,170.84 L627.90,170.68 L627.40,170.51 L626.90,170.34 L626.40,170.17 L625.90,170.00 L625.40,169.83 L624.90,169.67 L624.40,169.50 L623.90,169.33 L623.40,169.17 L622.90,169.00 L622.40,168.84 L621.90,168.67 L621.40,168.51 L620.90,168.34 L620.40,168.18 L619.90,168.01 L619.40,167.85 L618.90,167.69 L618.40,167.52 L617.90,167.36 L617.40,167.20 L616.90,167.04 L616.40,166.88 L615.90,166.72 L615.40,166.56 L614.90,166.40 L614.40,166.24 L613.90,166.08 L613.40,165.92 L612.90,165.77 L612.40,165.61 L611.90,165.45 L611.40,165.30 L610.90,165.14 L610.40,164.99 L609.90,164.84 L609.40,164.68 L608.90,164.53 L608.40,164.38 L607.90,164.23 L607.40,164.08 L606.90,163.93 L606.40,163.78 L605.90,163.63 L605.40,163.48 L604.90,163.33 L604.40,163.19 L603.90,163.04 L603.40,162.90 L602.90,162.75 L602.40,162.61 L601.90,162.47 L601.40,162.32 L600.90,162.18 L600.40,162.04 L599.90,161.90 L599.40,161.76 L598.90,161.63 L598.40,161.49 L597.90,161.35 L597.40,161.22 L596.90,161.08 L596.40,160.95 L595.90,160.82 L595.40,160.69 L594.90,160.55 L594.40,160.42 L593.90,160.30 L593.40,160.17 L592.90,160.04 L592.40,159.91 L591.90,159.79 L591.40,159.67 L590.90,159.54 L590.40,159.42 L589.90,159.30 L589.40,159.18 L588.90,159.06 L588.40,158.94 L587.90,158.83 L587.40,158.71 L586.90,158.60 L586.40,158.48 L585.90,158.37 L585.40,158.26 L584.90,158.15 L584.40,158.04 L583.90,157.93 L583.40,157.83 L582.90,157.72 L582.40,157.62 L581.90,157.51 L581.40,157.41 L580.90,157.31 L580.40,157.21 L579.90,157.11 L579.40,157.02 L578.90,156.92 L578.40,156.82 L577.90,156.73 L577.40,156.64 L576.90,156.55 L576.40,156.46 L575.90,156.37 L575.40,156.29 L574.90,156.20 L574.40,156.12 L573.90,156.03 L573.40,155.95 L572.90,155.87 L572.40,155.79 L571.90,155.72 L571.40,155.64 L570.90,155.57 L570.40,155.50 L569.90,155.42 L569.40,155.35 L568.90,155.29 L568.40,155.22 L567.90,155.15 L567.40,155.09 L566.90,155.03 L566.40,154.97 L565.90,154.91 L565.40,154.85 L564.90,154.79 L564.40,154.74 L563.90,154.69 L563.40,154.64 L562.90,154.59 Z" fill="#bfe8c0"/>
<path d="M562.90,143.60 L565.86,144.50 L568.81,145.39 L571.77,146.29 L574.73,147.19 L577.68,148.09 L580.64,148.98 L583.59,149.88 L586.55,150.78 L589.51,151.68 L592.46,152.57 L595.42,153.47 L598.38,154.37 L601.33,155.27 L604.29,156.16 L607.25,157.06 L610.20,157.96 L613.16,158.86 L616.12,159.75 L619.07,160.65 L622.03,161.55 L624.98,162.45 L627.94,163.34 L630.90,164.24 L633.85,165.14 L636.81,166.04 L639.77,166.93 L642.72,167.83 L645.68,168.73 L648.64,169.63 L651.59,170.52 L654.55,171.42 L657.51,172.32 L660.46,173.22 L663.42,174.11 L666.37,175.01 L669.33,175.91 L672.29,176.81 L675.24,177.70 L678.20,178.60" fill="none" stroke="#26a82a" stroke-width="1.1"/>
<rect x="557.0" y="128.5" width="127.20000000000005" height="72.80000000000001" fill="none" stroke="#8c8c8c" stroke-width="1.1"/>
<text transform="translate(555.00,145.20) scale(0.92,1)" font-size="6.1" text-anchor="end">6</text>
<text transform="translate(555.00,162.90) scale(0.92,1)" font-size="6.1" text-anchor="end">4</text>
<text transform="translate(555.00,181.00) scale(0.92,1)" font-size="6.1" text-anchor="end">2</text>
<text transform="translate(555.00,199.20) scale(0.92,1)" font-size="6.1" text-anchor="end">0</text>
<text x="581.2" y="208.1" font-size="5.5" font-weight="normal" text-anchor="middle" >2.1</text>
<text x="612.7" y="208.1" font-size="5.5" font-weight="normal" text-anchor="middle" >2.4</text>
<text x="644.1" y="208.1" font-size="5.5" font-weight="normal" text-anchor="middle" >2.7</text>
<text x="675.3" y="208.1" font-size="5.5" font-weight="normal" text-anchor="middle" >3.0</text>
<path d="M557.0,143 h-1.6 M557.0,160.7 h-1.6 M557.0,178.8 h-1.6 M557.0,197 h-1.6 M581.2,201.3 v1.6 M612.7,201.3 v1.6 M644.1,201.3 v1.6 M675.3,201.3 v1.6" stroke="#8c8c8c" stroke-width="0.9" fill="none"/>
<text x="620.6" y="134.8" font-size="5.2" font-weight="bold" text-anchor="middle" >p = &lt;0.001</text>
<text x="621.1" y="214.3" font-size="5.3" font-weight="bold" text-anchor="middle" >Roughness</text>
<text transform="translate(548.1,165.3) rotate(-90)" font-size="5.3" font-weight="bold" text-anchor="middle">Species richness</text>
<path d="M103.00,249.09 L103.50,248.92 L104.00,248.74 L104.50,248.55 L105.00,248.35 L105.50,248.14 L106.00,247.93 L106.50,247.70 L107.00,247.46 L107.50,247.22 L108.00,246.97 L108.50,246.71 L109.00,246.44 L109.50,246.17 L110.00,245.89 L110.50,245.60 L111.00,245.30 L111.50,245.00 L112.00,244.70 L112.50,244.39 L113.00,244.07 L113.50,243.75 L114.00,243.43 L114.50,243.10 L115.00,242.77 L115.50,242.43 L116.00,242.10 L116.50,241.75 L117.00,241.41 L117.50,241.06 L118.00,240.72 L118.50,240.36 L119.00,240.01 L119.50,239.66 L120.00,239.31 L120.50,238.95 L121.00,238.60 L121.50,238.24 L122.00,237.89 L122.50,237.54 L123.00,237.19 L123.50,236.84 L124.00,236.49 L124.50,236.14 L125.00,235.80 L125.50,235.47 L126.00,235.13 L126.50,234.80 L127.00,234.48 L127.50,234.16 L128.00,233.85 L128.50,233.54 L129.00,233.25 L129.50,232.96 L130.00,232.67 L130.50,232.40 L131.00,232.13 L131.50,231.88 L132.00,231.63 L132.50,231.40 L133.00,231.17 L133.50,230.96 L134.00,230.76 L134.50,230.57 L135.00,230.40 L135.50,230.23 L136.00,230.09 L136.50,229.95 L137.00,229.83 L137.50,229.73 L138.00,229.64 L138.50,229.57 L139.00,229.51 L139.50,229.47 L140.00,229.45 L140.50,229.45 L141.00,229.46 L141.50,229.50 L142.00,229.55 L142.50,229.62 L143.00,229.71 L143.50,229.83 L144.00,229.96 L144.50,230.11 L145.00,230.29 L145.50,230.49 L146.00,230.71 L146.50,230.95 L147.00,231.22 L147.50,231.50 L148.00,231.82 L148.50,232.15 L149.00,232.52 L149.50,232.90 L150.00,233.32 L150.50,233.76 L151.00,234.22 L151.50,234.71 L152.00,235.23 L152.50,235.77 L153.00,236.34 L153.50,236.93 L154.00,237.54 L154.50,238.16 L155.00,238.81 L155.50,239.46 L156.00,240.13 L156.50,240.80 L157.00,241.49 L157.50,242.18 L158.00,242.87 L158.50,243.56 L159.00,244.26 L159.50,244.95 L160.00,245.64 L160.50,246.32 L161.00,246.99 L161.50,247.65 L162.00,248.30 L162.50,248.93 L163.00,249.55 L163.50,250.15 L164.00,250.72 L164.50,251.28 L165.00,251.81 L165.50,252.32 L166.00,252.80 L166.50,253.26 L167.00,253.70 L167.50,254.12 L168.00,254.51 L168.50,254.89 L169.00,255.24 L169.50,255.57 L170.00,255.89 L170.50,256.18 L171.00,256.46 L171.50,256.72 L172.00,256.96 L172.50,257.19 L173.00,257.40 L173.50,257.59 L174.00,257.77 L174.50,257.93 L175.00,258.08 L175.50,258.22 L176.00,258.34 L176.50,258.45 L177.00,258.55 L177.50,258.64 L178.00,258.71 L178.50,258.78 L179.00,258.83 L179.50,258.88 L180.00,258.92 L180.50,258.94 L181.00,258.96 L181.50,258.97 L182.00,258.97 L182.50,258.97 L183.00,258.95 L183.50,258.93 L184.00,258.89 L184.50,258.85 L185.00,258.80 L185.50,258.74 L186.00,258.67 L186.50,258.59 L187.00,258.50 L187.50,258.41 L188.00,258.30 L188.50,258.19 L189.00,258.07 L189.50,257.93 L190.00,257.79 L190.50,257.65 L191.00,257.49 L191.50,257.32 L192.00,257.15 L192.50,256.96 L193.00,256.77 L193.50,256.57 L194.00,256.36 L194.50,256.14 L195.00,255.91 L195.50,255.67 L196.00,255.43 L196.50,255.17 L197.00,254.91 L197.50,254.64 L198.00,254.36 L198.50,254.07 L199.00,253.76 L199.50,253.45 L200.00,253.12 L200.50,252.78 L201.00,252.43 L201.50,252.06 L202.00,251.68 L202.50,251.29 L203.00,250.88 L203.50,250.45 L204.00,250.00 L204.50,249.54 L205.00,249.06 L205.50,248.56 L206.00,248.04 L206.50,247.50 L207.00,246.95 L207.50,246.37 L208.00,245.76 L208.50,245.14 L209.00,244.49 L209.50,243.82 L210.00,243.13 L210.50,242.41 L211.00,241.67 L211.50,240.90 L212.00,240.10 L212.50,239.28 L213.00,238.43 L213.50,237.55 L214.00,236.64 L214.50,235.70 L215.00,234.74 L215.00,284.09 L214.50,284.04 L214.00,284.00 L213.50,283.96 L213.00,283.92 L212.50,283.88 L212.00,283.85 L211.50,283.82 L211.00,283.79 L210.50,283.76 L210.00,283.73 L209.50,283.71 L209.00,283.69 L208.50,283.67 L208.00,283.65 L207.50,283.64 L207.00,283.62 L206.50,283.61 L206.00,283.60 L205.50,283.59 L205.00,283.58 L204.50,283.58 L204.00,283.57 L203.50,283.57 L203.00,283.56 L202.50,283.56 L202.00,283.56 L201.50,283.56 L201.00,283.56 L200.50,283.56 L200.00,283.56 L199.50,283.56 L199.00,283.56 L198.50,283.57 L198.00,283.57 L197.50,283.57 L197.00,283.58 L196.50,283.58 L196.00,283.58 L195.50,283.59 L195.00,283.59 L194.50,283.59 L194.00,283.59 L193.50,283.60 L193.00,283.60 L192.50,283.60 L192.00,283.60 L191.50,283.60 L191.00,283.60 L190.50,283.59 L190.00,283.59 L189.50,283.59 L189.00,283.58 L188.50,283.58 L188.00,283.57 L187.50,283.56 L187.00,283.55 L186.50,283.54 L186.00,283.52 L185.50,283.51 L185.00,283.49 L184.50,283.47 L184.00,283.45 L183.50,283.43 L183.00,283.41 L182.50,283.38 L182.00,283.35 L181.50,283.32 L181.00,283.29 L180.50,283.25 L180.00,283.22 L179.50,283.18 L179.00,283.13 L178.50,283.09 L178.00,283.04 L177.50,282.99 L177.00,282.94 L176.50,282.88 L176.00,282.82 L175.50,282.76 L175.00,282.69 L174.50,282.62 L174.00,282.55 L173.50,282.47 L173.00,282.39 L172.50,282.31 L172.00,282.22 L171.50,282.13 L171.00,282.03 L170.50,281.93 L170.00,281.83 L169.50,281.73 L169.00,281.62 L168.50,281.50 L168.00,281.39 L167.50,281.27 L167.00,281.15 L166.50,281.02 L166.00,280.90 L165.50,280.77 L165.00,280.63 L164.50,280.50 L164.00,280.37 L163.50,280.23 L163.00,280.09 L162.50,279.95 L162.00,279.81 L161.50,279.67 L161.00,279.53 L160.50,279.38 L160.00,279.24 L159.50,279.10 L159.00,278.95 L158.50,278.81 L158.00,278.66 L157.50,278.52 L157.00,278.38 L156.50,278.23 L156.00,278.09 L155.50,277.95 L155.00,277.81 L154.50,277.68 L154.00,277.54 L153.50,277.41 L153.00,277.28 L152.50,277.16 L152.00,277.03 L151.50,276.91 L151.00,276.80 L150.50,276.69 L150.00,276.58 L149.50,276.48 L149.00,276.38 L148.50,276.29 L148.00,276.20 L147.50,276.12 L147.00,276.05 L146.50,275.98 L146.00,275.92 L145.50,275.86 L145.00,275.81 L144.50,275.77 L144.00,275.74 L143.50,275.71 L143.00,275.69 L142.50,275.68 L142.00,275.67 L141.50,275.67 L141.00,275.68 L140.50,275.70 L140.00,275.72 L139.50,275.75 L139.00,275.78 L138.50,275.82 L138.00,275.87 L137.50,275.93 L137.00,275.99 L136.50,276.06 L136.00,276.13 L135.50,276.21 L135.00,276.30 L134.50,276.39 L134.00,276.49 L133.50,276.60 L133.00,276.71 L132.50,276.83 L132.00,276.95 L131.50,277.08 L131.00,277.21 L130.50,277.36 L130.00,277.50 L129.50,277.66 L129.00,277.81 L128.50,277.98 L128.00,278.15 L127.50,278.32 L127.00,278.50 L126.50,278.68 L126.00,278.87 L125.50,279.06 L125.00,279.25 L124.50,279.45 L124.00,279.65 L123.50,279.85 L123.00,280.06 L122.50,280.27 L122.00,280.48 L121.50,280.70 L121.00,280.91 L120.50,281.13 L120.00,281.35 L119.50,281.57 L119.00,281.79 L118.50,282.01 L118.00,282.23 L117.50,282.45 L117.00,282.67 L116.50,282.90 L116.00,283.12 L115.50,283.34 L115.00,283.56 L114.50,283.78 L114.00,284.00 L113.50,284.21 L113.00,284.43 L112.50,284.64 L112.00,284.85 L111.50,285.05 L111.00,285.26 L110.50,285.46 L110.00,285.66 L109.50,285.86 L109.00,286.05 L108.50,286.23 L108.00,286.42 L107.50,286.60 L107.00,286.77 L106.50,286.94 L106.00,287.11 L105.50,287.27 L105.00,287.42 L104.50,287.57 L104.00,287.71 L103.50,287.85 L103.00,287.98 Z" fill="#e8d1bf"/>
<path d="M103.00,279.06 L103.50,278.89 L104.00,278.71 L104.50,278.51 L105.00,278.31 L105.50,278.09 L106.00,277.87 L106.50,277.63 L107.00,277.38 L107.50,277.13 L108.00,276.87 L108.50,276.59 L109.00,276.31 L109.50,276.03 L110.00,275.73 L110.50,275.43 L111.00,275.12 L111.50,274.81 L112.00,274.49 L112.50,274.16 L113.00,273.83 L113.50,273.50 L114.00,273.16 L114.50,272.82 L115.00,272.47 L115.50,272.12 L116.00,271.77 L116.50,271.42 L117.00,271.06 L117.50,270.70 L118.00,270.35 L118.50,269.99 L119.00,269.63 L119.50,269.27 L120.00,268.91 L120.50,268.55 L121.00,268.19 L121.50,267.83 L122.00,267.48 L122.50,267.13 L123.00,266.78 L123.50,266.43 L124.00,266.09 L124.50,265.75 L125.00,265.42 L125.50,265.09 L126.00,264.76 L126.50,264.44 L127.00,264.13 L127.50,263.82 L128.00,263.52 L128.50,263.23 L129.00,262.94 L129.50,262.66 L130.00,262.39 L130.50,262.13 L131.00,261.87 L131.50,261.63 L132.00,261.39 L132.50,261.17 L133.00,260.95 L133.50,260.75 L134.00,260.55 L134.50,260.37 L135.00,260.20 L135.50,260.04 L136.00,259.90 L136.50,259.77 L137.00,259.65 L137.50,259.54 L138.00,259.45 L138.50,259.37 L139.00,259.31 L139.50,259.27 L140.00,259.23 L140.50,259.22 L141.00,259.21 L141.50,259.23 L142.00,259.25 L142.50,259.29 L143.00,259.35 L143.50,259.41 L144.00,259.50 L144.50,259.59 L145.00,259.70 L145.50,259.82 L146.00,259.95 L146.50,260.10 L147.00,260.26 L147.50,260.43 L148.00,260.62 L148.50,260.82 L149.00,261.03 L149.50,261.25 L150.00,261.48 L150.50,261.73 L151.00,261.98 L151.50,262.25 L152.00,262.53 L152.50,262.82 L153.00,263.12 L153.50,263.42 L154.00,263.73 L154.50,264.05 L155.00,264.37 L155.50,264.69 L156.00,265.02 L156.50,265.34 L157.00,265.67 L157.50,265.99 L158.00,266.30 L158.50,266.61 L159.00,266.92 L159.50,267.22 L160.00,267.52 L160.50,267.81 L161.00,268.09 L161.50,268.37 L162.00,268.64 L162.50,268.91 L163.00,269.18 L163.50,269.44 L164.00,269.69 L164.50,269.94 L165.00,270.18 L165.50,270.42 L166.00,270.65 L166.50,270.88 L167.00,271.10 L167.50,271.32 L168.00,271.53 L168.50,271.73 L169.00,271.93 L169.50,272.13 L170.00,272.32 L170.50,272.50 L171.00,272.68 L171.50,272.86 L172.00,273.03 L172.50,273.19 L173.00,273.35 L173.50,273.50 L174.00,273.65 L174.50,273.79 L175.00,273.93 L175.50,274.06 L176.00,274.19 L176.50,274.31 L177.00,274.43 L177.50,274.54 L178.00,274.65 L178.50,274.75 L179.00,274.84 L179.50,274.93 L180.00,275.02 L180.50,275.10 L181.00,275.17 L181.50,275.24 L182.00,275.30 L182.50,275.36 L183.00,275.41 L183.50,275.46 L184.00,275.51 L184.50,275.54 L185.00,275.57 L185.50,275.60 L186.00,275.62 L186.50,275.64 L187.00,275.65 L187.50,275.66 L188.00,275.66 L188.50,275.65 L189.00,275.64 L189.50,275.63 L190.00,275.61 L190.50,275.58 L191.00,275.55 L191.50,275.52 L192.00,275.48 L192.50,275.44 L193.00,275.39 L193.50,275.34 L194.00,275.28 L194.50,275.22 L195.00,275.16 L195.50,275.10 L196.00,275.03 L196.50,274.96 L197.00,274.88 L197.50,274.80 L198.00,274.72 L198.50,274.64 L199.00,274.55 L199.50,274.46 L200.00,274.37 L200.50,274.28 L201.00,274.18 L201.50,274.09 L202.00,273.99 L202.50,273.89 L203.00,273.79 L203.50,273.68 L204.00,273.58 L204.50,273.47 L205.00,273.36 L205.50,273.26 L206.00,273.15 L206.50,273.04 L207.00,272.93 L207.50,272.82 L208.00,272.71 L208.50,272.60 L209.00,272.49 L209.50,272.38 L210.00,272.27 L210.50,272.16 L211.00,272.05 L211.50,271.95 L212.00,271.84 L212.50,271.73 L213.00,271.63 L213.50,271.53 L214.00,271.42 L214.50,271.32 L215.00,271.22" fill="none" stroke="#a04a24" stroke-width="1.1"/>
<rect x="96.6" y="222.8" width="124.80000000000001" height="72.39999999999998" fill="none" stroke="#8c8c8c" stroke-width="1.1"/>
<text transform="translate(94.60,227.60) scale(0.92,1)" font-size="6.1" text-anchor="end">20</text>
<text transform="translate(94.60,244.40) scale(0.92,1)" font-size="6.1" text-anchor="end">15</text>
<text transform="translate(94.60,261.00) scale(0.92,1)" font-size="6.1" text-anchor="end">10</text>
<text transform="translate(94.60,277.70) scale(0.92,1)" font-size="6.1" text-anchor="end">5</text>
<text transform="translate(94.60,294.10) scale(0.92,1)" font-size="6.1" text-anchor="end">0</text>
<text x="112.6" y="302.0" font-size="5.5" font-weight="normal" text-anchor="middle" >−0.02</text>
<text x="136.7" y="302.0" font-size="5.5" font-weight="normal" text-anchor="middle" >−0.01</text>
<text x="160.8" y="302.0" font-size="5.5" font-weight="normal" text-anchor="middle" >0.00</text>
<text x="184.5" y="302.0" font-size="5.5" font-weight="normal" text-anchor="middle" >0.01</text>
<text x="208.3" y="302.0" font-size="5.5" font-weight="normal" text-anchor="middle" >0.02</text>
<path d="M96.6,225.4 h-1.6 M96.6,242.2 h-1.6 M96.6,258.8 h-1.6 M96.6,275.5 h-1.6 M96.6,291.9 h-1.6 M112.6,295.2 v1.6 M136.7,295.2 v1.6 M160.8,295.2 v1.6 M184.5,295.2 v1.6 M208.3,295.2 v1.6" stroke="#8c8c8c" stroke-width="0.9" fill="none"/>
<text x="159.0" y="229.7" font-size="5.2" font-weight="bold" text-anchor="middle" >p = 0.016</text>
<text x="159.5" y="308.3" font-size="5.3" font-weight="bold" text-anchor="middle" >Plan curvature (concave [-], convex [+])</text>
<text transform="translate(84.1,260) rotate(-90)" font-size="5.3" font-weight="bold" text-anchor="middle">Abundance</text>
<path d="M411.00,243.50 L411.50,243.35 L412.00,243.19 L412.50,243.04 L413.00,242.89 L413.50,242.74 L414.00,242.60 L414.50,242.45 L415.00,242.31 L415.50,242.17 L416.00,242.02 L416.50,241.88 L417.00,241.74 L417.50,241.60 L418.00,241.46 L418.50,241.32 L419.00,241.18 L419.50,241.04 L420.00,240.90 L420.50,240.76 L421.00,240.62 L421.50,240.48 L422.00,240.34 L422.50,240.20 L423.00,240.06 L423.50,239.91 L424.00,239.77 L424.50,239.62 L425.00,239.47 L425.50,239.32 L426.00,239.17 L426.50,239.02 L427.00,238.86 L427.50,238.71 L428.00,238.55 L428.50,238.38 L429.00,238.22 L429.50,238.05 L430.00,237.89 L430.50,237.72 L431.00,237.55 L431.50,237.38 L432.00,237.21 L432.50,237.04 L433.00,236.87 L433.50,236.70 L434.00,236.53 L434.50,236.37 L435.00,236.20 L435.50,236.03 L436.00,235.87 L436.50,235.71 L437.00,235.55 L437.50,235.40 L438.00,235.25 L438.50,235.10 L439.00,234.95 L439.50,234.82 L440.00,234.69 L440.50,234.57 L441.00,234.46 L441.50,234.37 L442.00,234.29 L442.50,234.22 L443.00,234.18 L443.50,234.15 L444.00,234.14 L444.50,234.16 L445.00,234.19 L445.50,234.26 L446.00,234.35 L446.50,234.47 L447.00,234.61 L447.50,234.77 L448.00,234.96 L448.50,235.18 L449.00,235.41 L449.50,235.67 L450.00,235.95 L450.50,236.25 L451.00,236.57 L451.50,236.91 L452.00,237.27 L452.50,237.65 L453.00,238.05 L453.50,238.47 L454.00,238.90 L454.50,239.34 L455.00,239.81 L455.50,240.28 L456.00,240.78 L456.50,241.28 L457.00,241.80 L457.50,242.33 L458.00,242.88 L458.50,243.43 L459.00,244.00 L459.50,244.57 L460.00,245.16 L460.50,245.75 L461.00,246.35 L461.50,246.96 L462.00,247.58 L462.50,248.20 L463.00,248.82 L463.50,249.44 L464.00,250.06 L464.50,250.68 L465.00,251.30 L465.50,251.91 L466.00,252.52 L466.50,253.12 L467.00,253.71 L467.50,254.30 L468.00,254.87 L468.50,255.43 L469.00,255.98 L469.50,256.51 L470.00,257.02 L470.50,257.52 L471.00,258.00 L471.50,258.46 L472.00,258.90 L472.50,259.31 L473.00,259.70 L473.50,260.06 L474.00,260.41 L474.50,260.73 L475.00,261.03 L475.50,261.31 L476.00,261.57 L476.50,261.82 L477.00,262.04 L477.50,262.26 L478.00,262.45 L478.50,262.63 L479.00,262.80 L479.50,262.96 L480.00,263.10 L480.50,263.24 L481.00,263.36 L481.50,263.48 L482.00,263.58 L482.50,263.68 L483.00,263.78 L483.50,263.87 L484.00,263.96 L484.50,264.04 L485.00,264.12 L485.50,264.19 L486.00,264.26 L486.50,264.33 L487.00,264.39 L487.50,264.45 L488.00,264.50 L488.50,264.55 L489.00,264.59 L489.50,264.63 L490.00,264.67 L490.50,264.70 L491.00,264.72 L491.50,264.74 L492.00,264.75 L492.50,264.75 L493.00,264.75 L493.50,264.75 L494.00,264.73 L494.50,264.71 L495.00,264.69 L495.50,264.66 L496.00,264.62 L496.50,264.57 L497.00,264.52 L497.50,264.46 L498.00,264.39 L498.50,264.31 L499.00,264.23 L499.50,264.14 L500.00,264.04 L500.50,263.93 L501.00,263.81 L501.50,263.68 L502.00,263.55 L502.50,263.40 L503.00,263.24 L503.50,263.07 L504.00,262.88 L504.50,262.69 L505.00,262.48 L505.50,262.25 L506.00,262.02 L506.50,261.76 L507.00,261.49 L507.50,261.21 L508.00,260.91 L508.50,260.59 L509.00,260.25 L509.50,259.90 L510.00,259.53 L510.50,259.14 L511.00,258.73 L511.50,258.29 L512.00,257.84 L512.50,257.37 L513.00,256.87 L513.50,256.36 L514.00,255.82 L514.50,255.25 L515.00,254.67 L515.50,254.06 L516.00,253.42 L516.50,252.76 L517.00,252.07 L517.50,251.36 L518.00,250.62 L518.50,249.85 L519.00,249.05 L519.50,248.23 L520.00,247.37 L520.50,246.49 L521.00,245.58 L521.50,244.63 L522.00,243.66 L522.50,242.65 L523.00,241.61 L523.50,240.54 L524.00,239.43 L524.00,282.09 L523.50,282.09 L523.00,282.10 L522.50,282.10 L522.00,282.10 L521.50,282.10 L521.00,282.09 L520.50,282.09 L520.00,282.08 L519.50,282.08 L519.00,282.07 L518.50,282.06 L518.00,282.05 L517.50,282.04 L517.00,282.02 L516.50,282.01 L516.00,281.99 L515.50,281.98 L515.00,281.96 L514.50,281.94 L514.00,281.93 L513.50,281.91 L513.00,281.89 L512.50,281.87 L512.00,281.85 L511.50,281.83 L511.00,281.81 L510.50,281.78 L510.00,281.76 L509.50,281.74 L509.00,281.72 L508.50,281.69 L508.00,281.67 L507.50,281.65 L507.00,281.63 L506.50,281.61 L506.00,281.58 L505.50,281.56 L505.00,281.54 L504.50,281.52 L504.00,281.50 L503.50,281.48 L503.00,281.46 L502.50,281.44 L502.00,281.42 L501.50,281.40 L501.00,281.38 L500.50,281.37 L500.00,281.35 L499.50,281.34 L499.00,281.32 L498.50,281.31 L498.00,281.30 L497.50,281.29 L497.00,281.28 L496.50,281.27 L496.00,281.26 L495.50,281.25 L495.00,281.24 L494.50,281.23 L494.00,281.22 L493.50,281.21 L493.00,281.20 L492.50,281.19 L492.00,281.18 L491.50,281.17 L491.00,281.16 L490.50,281.15 L490.00,281.14 L489.50,281.13 L489.00,281.11 L488.50,281.10 L488.00,281.08 L487.50,281.06 L487.00,281.04 L486.50,281.02 L486.00,281.00 L485.50,280.98 L485.00,280.95 L484.50,280.93 L484.00,280.90 L483.50,280.87 L483.00,280.83 L482.50,280.80 L482.00,280.76 L481.50,280.72 L481.00,280.67 L480.50,280.62 L480.00,280.57 L479.50,280.51 L479.00,280.45 L478.50,280.39 L478.00,280.32 L477.50,280.25 L477.00,280.17 L476.50,280.08 L476.00,279.99 L475.50,279.90 L475.00,279.80 L474.50,279.69 L474.00,279.57 L473.50,279.45 L473.00,279.32 L472.50,279.19 L472.00,279.04 L471.50,278.89 L471.00,278.73 L470.50,278.56 L470.00,278.39 L469.50,278.20 L469.00,278.01 L468.50,277.81 L468.00,277.59 L467.50,277.37 L467.00,277.14 L466.50,276.90 L466.00,276.64 L465.50,276.38 L465.00,276.12 L464.50,275.84 L464.00,275.56 L463.50,275.28 L463.00,275.00 L462.50,274.71 L462.00,274.42 L461.50,274.13 L461.00,273.84 L460.50,273.55 L460.00,273.27 L459.50,272.99 L459.00,272.72 L458.50,272.45 L458.00,272.19 L457.50,271.94 L457.00,271.70 L456.50,271.47 L456.00,271.25 L455.50,271.04 L455.00,270.84 L454.50,270.66 L454.00,270.49 L453.50,270.34 L453.00,270.20 L452.50,270.07 L452.00,269.96 L451.50,269.86 L451.00,269.78 L450.50,269.71 L450.00,269.65 L449.50,269.61 L449.00,269.58 L448.50,269.57 L448.00,269.57 L447.50,269.58 L447.00,269.61 L446.50,269.66 L446.00,269.71 L445.50,269.79 L445.00,269.88 L444.50,269.98 L444.00,270.09 L443.50,270.22 L443.00,270.36 L442.50,270.52 L442.00,270.68 L441.50,270.86 L441.00,271.04 L440.50,271.24 L440.00,271.44 L439.50,271.66 L439.00,271.88 L438.50,272.11 L438.00,272.35 L437.50,272.59 L437.00,272.84 L436.50,273.10 L436.00,273.36 L435.50,273.63 L435.00,273.90 L434.50,274.18 L434.00,274.45 L433.50,274.74 L433.00,275.02 L432.50,275.31 L432.00,275.59 L431.50,275.88 L431.00,276.17 L430.50,276.46 L430.00,276.75 L429.50,277.03 L429.00,277.32 L428.50,277.60 L428.00,277.88 L427.50,278.16 L427.00,278.43 L426.50,278.71 L426.00,278.97 L425.50,279.24 L425.00,279.50 L424.50,279.76 L424.00,280.01 L423.50,280.27 L423.00,280.52 L422.50,280.76 L422.00,281.01 L421.50,281.25 L421.00,281.49 L420.50,281.72 L420.00,281.96 L419.50,282.19 L419.00,282.41 L418.50,282.64 L418.00,282.86 L417.50,283.08 L417.00,283.30 L416.50,283.52 L416.00,283.73 L415.50,283.95 L415.00,284.15 L414.50,284.36 L414.00,284.57 L413.50,284.77 L413.00,284.97 L412.50,285.17 L412.00,285.37 L411.50,285.56 L411.00,285.76 Z" fill="#e8d1bf"/>
<path d="M411.00,275.16 L411.50,274.92 L412.00,274.68 L412.50,274.43 L413.00,274.18 L413.50,273.93 L414.00,273.67 L414.50,273.41 L415.00,273.14 L415.50,272.87 L416.00,272.60 L416.50,272.32 L417.00,272.04 L417.50,271.75 L418.00,271.46 L418.50,271.17 L419.00,270.87 L419.50,270.57 L420.00,270.27 L420.50,269.96 L421.00,269.65 L421.50,269.33 L422.00,269.02 L422.50,268.70 L423.00,268.37 L423.50,268.05 L424.00,267.72 L424.50,267.39 L425.00,267.05 L425.50,266.71 L426.00,266.37 L426.50,266.03 L427.00,265.69 L427.50,265.34 L428.00,264.99 L428.50,264.64 L429.00,264.28 L429.50,263.93 L430.00,263.58 L430.50,263.22 L431.00,262.87 L431.50,262.52 L432.00,262.17 L432.50,261.82 L433.00,261.47 L433.50,261.13 L434.00,260.80 L434.50,260.47 L435.00,260.14 L435.50,259.83 L436.00,259.51 L436.50,259.21 L437.00,258.92 L437.50,258.63 L438.00,258.35 L438.50,258.08 L439.00,257.83 L439.50,257.58 L440.00,257.35 L440.50,257.13 L441.00,256.92 L441.50,256.73 L442.00,256.55 L442.50,256.38 L443.00,256.23 L443.50,256.10 L444.00,255.98 L444.50,255.88 L445.00,255.80 L445.50,255.74 L446.00,255.70 L446.50,255.67 L447.00,255.67 L447.50,255.68 L448.00,255.72 L448.50,255.78 L449.00,255.85 L449.50,255.95 L450.00,256.06 L450.50,256.20 L451.00,256.35 L451.50,256.52 L452.00,256.71 L452.50,256.92 L453.00,257.15 L453.50,257.39 L454.00,257.66 L454.50,257.94 L455.00,258.23 L455.50,258.55 L456.00,258.88 L456.50,259.23 L457.00,259.59 L457.50,259.97 L458.00,260.36 L458.50,260.76 L459.00,261.16 L459.50,261.58 L460.00,262.00 L460.50,262.43 L461.00,262.87 L461.50,263.30 L462.00,263.74 L462.50,264.18 L463.00,264.61 L463.50,265.05 L464.00,265.48 L464.50,265.90 L465.00,266.32 L465.50,266.73 L466.00,267.14 L466.50,267.53 L467.00,267.91 L467.50,268.28 L468.00,268.63 L468.50,268.97 L469.00,269.31 L469.50,269.63 L470.00,269.93 L470.50,270.23 L471.00,270.52 L471.50,270.79 L472.00,271.06 L472.50,271.31 L473.00,271.56 L473.50,271.79 L474.00,272.01 L474.50,272.23 L475.00,272.44 L475.50,272.63 L476.00,272.82 L476.50,273.00 L477.00,273.17 L477.50,273.34 L478.00,273.49 L478.50,273.64 L479.00,273.78 L479.50,273.92 L480.00,274.04 L480.50,274.17 L481.00,274.28 L481.50,274.39 L482.00,274.49 L482.50,274.59 L483.00,274.68 L483.50,274.76 L484.00,274.84 L484.50,274.92 L485.00,274.99 L485.50,275.06 L486.00,275.12 L486.50,275.18 L487.00,275.24 L487.50,275.29 L488.00,275.34 L488.50,275.39 L489.00,275.43 L489.50,275.47 L490.00,275.51 L490.50,275.55 L491.00,275.58 L491.50,275.61 L492.00,275.64 L492.50,275.67 L493.00,275.69 L493.50,275.71 L494.00,275.73 L494.50,275.75 L495.00,275.76 L495.50,275.77 L496.00,275.78 L496.50,275.78 L497.00,275.78 L497.50,275.78 L498.00,275.77 L498.50,275.77 L499.00,275.75 L499.50,275.74 L500.00,275.72 L500.50,275.70 L501.00,275.67 L501.50,275.64 L502.00,275.61 L502.50,275.57 L503.00,275.53 L503.50,275.49 L504.00,275.44 L504.50,275.39 L505.00,275.33 L505.50,275.27 L506.00,275.21 L506.50,275.14 L507.00,275.06 L507.50,274.99 L508.00,274.91 L508.50,274.82 L509.00,274.73 L509.50,274.63 L510.00,274.53 L510.50,274.43 L511.00,274.32 L511.50,274.21 L512.00,274.09 L512.50,273.97 L513.00,273.84 L513.50,273.70 L514.00,273.57 L514.50,273.42 L515.00,273.27 L515.50,273.12 L516.00,272.96 L516.50,272.80 L517.00,272.63 L517.50,272.45 L518.00,272.27 L518.50,272.08 L519.00,271.89 L519.50,271.69 L520.00,271.49 L520.50,271.28 L521.00,271.06 L521.50,270.84 L522.00,270.62 L522.50,270.38 L523.00,270.14 L523.50,269.90 L524.00,269.65" fill="none" stroke="#a04a24" stroke-width="1.1"/>
<rect x="405.0" y="223.6" width="126.5" height="71.9" fill="none" stroke="#8c8c8c" stroke-width="1.1"/>
<text transform="translate(403.00,236.00) scale(0.92,1)" font-size="6.1" text-anchor="end">4</text>
<text transform="translate(403.00,250.50) scale(0.92,1)" font-size="6.1" text-anchor="end">3</text>
<text transform="translate(403.00,265.30) scale(0.92,1)" font-size="6.1" text-anchor="end">2</text>
<text transform="translate(403.00,279.90) scale(0.92,1)" font-size="6.1" text-anchor="end">1</text>
<text transform="translate(403.00,294.70) scale(0.92,1)" font-size="6.1" text-anchor="end">0</text>
<text x="422.6" y="302.3" font-size="5.5" font-weight="normal" text-anchor="middle" >−0.02</text>
<text x="447.3" y="302.3" font-size="5.5" font-weight="normal" text-anchor="middle" >−0.01</text>
<text x="469.9" y="302.3" font-size="5.5" font-weight="normal" text-anchor="middle" >0.00</text>
<text x="493.6" y="302.3" font-size="5.5" font-weight="normal" text-anchor="middle" >0.01</text>
<text x="517.7" y="302.3" font-size="5.5" font-weight="normal" text-anchor="middle" >0.02</text>
<path d="M405.0,233.8 h-1.6 M405.0,248.3 h-1.6 M405.0,263.1 h-1.6 M405.0,277.7 h-1.6 M405.0,292.5 h-1.6 M422.6,295.5 v1.6 M447.3,295.5 v1.6 M469.9,295.5 v1.6 M493.6,295.5 v1.6 M517.7,295.5 v1.6" stroke="#8c8c8c" stroke-width="0.9" fill="none"/>
<text x="466.55" y="230" font-size="4.9" font-weight="bold" text-anchor="middle" >p = 0.004</text>
<text x="468.75" y="308.3" font-size="5.3" font-weight="bold" text-anchor="middle" >Plan curvature (concave [-], convex [+])</text>
<text transform="translate(396.9,259.8) rotate(-90)" font-size="5.3" font-weight="bold" text-anchor="middle">Species richness</text>
<text x="236.6" y="10.5" font-size="13.9" font-weight="bold" text-anchor="middle" >Nursery species abundance</text>
<text x="542.8" y="10.5" font-size="13.9" font-weight="bold" text-anchor="middle" >Nursery species richness</text>
<text x="159" y="26.6" font-size="9" font-weight="bold" text-anchor="middle" >Mangrove</text>
<text x="315.8" y="26.3" font-size="9" font-weight="bold" text-anchor="middle" >Seagrass</text>
<text x="468" y="26.6" font-size="9" font-weight="bold" text-anchor="middle" >Mangrove</text>
<text x="619.8" y="27.3" font-size="9" font-weight="bold" text-anchor="middle" >Seagrass</text>
<text x="1" y="75.8" font-size="9.15" font-weight="bold" text-anchor="start" >Average depth</text>
<text x="1" y="168.3" font-size="9.15" font-weight="bold" text-anchor="start" >Roughness</text>
<text x="1" y="262.6" font-size="9.15" font-weight="bold" text-anchor="start" >Plan curvature</text>
</svg>
</body></html>
